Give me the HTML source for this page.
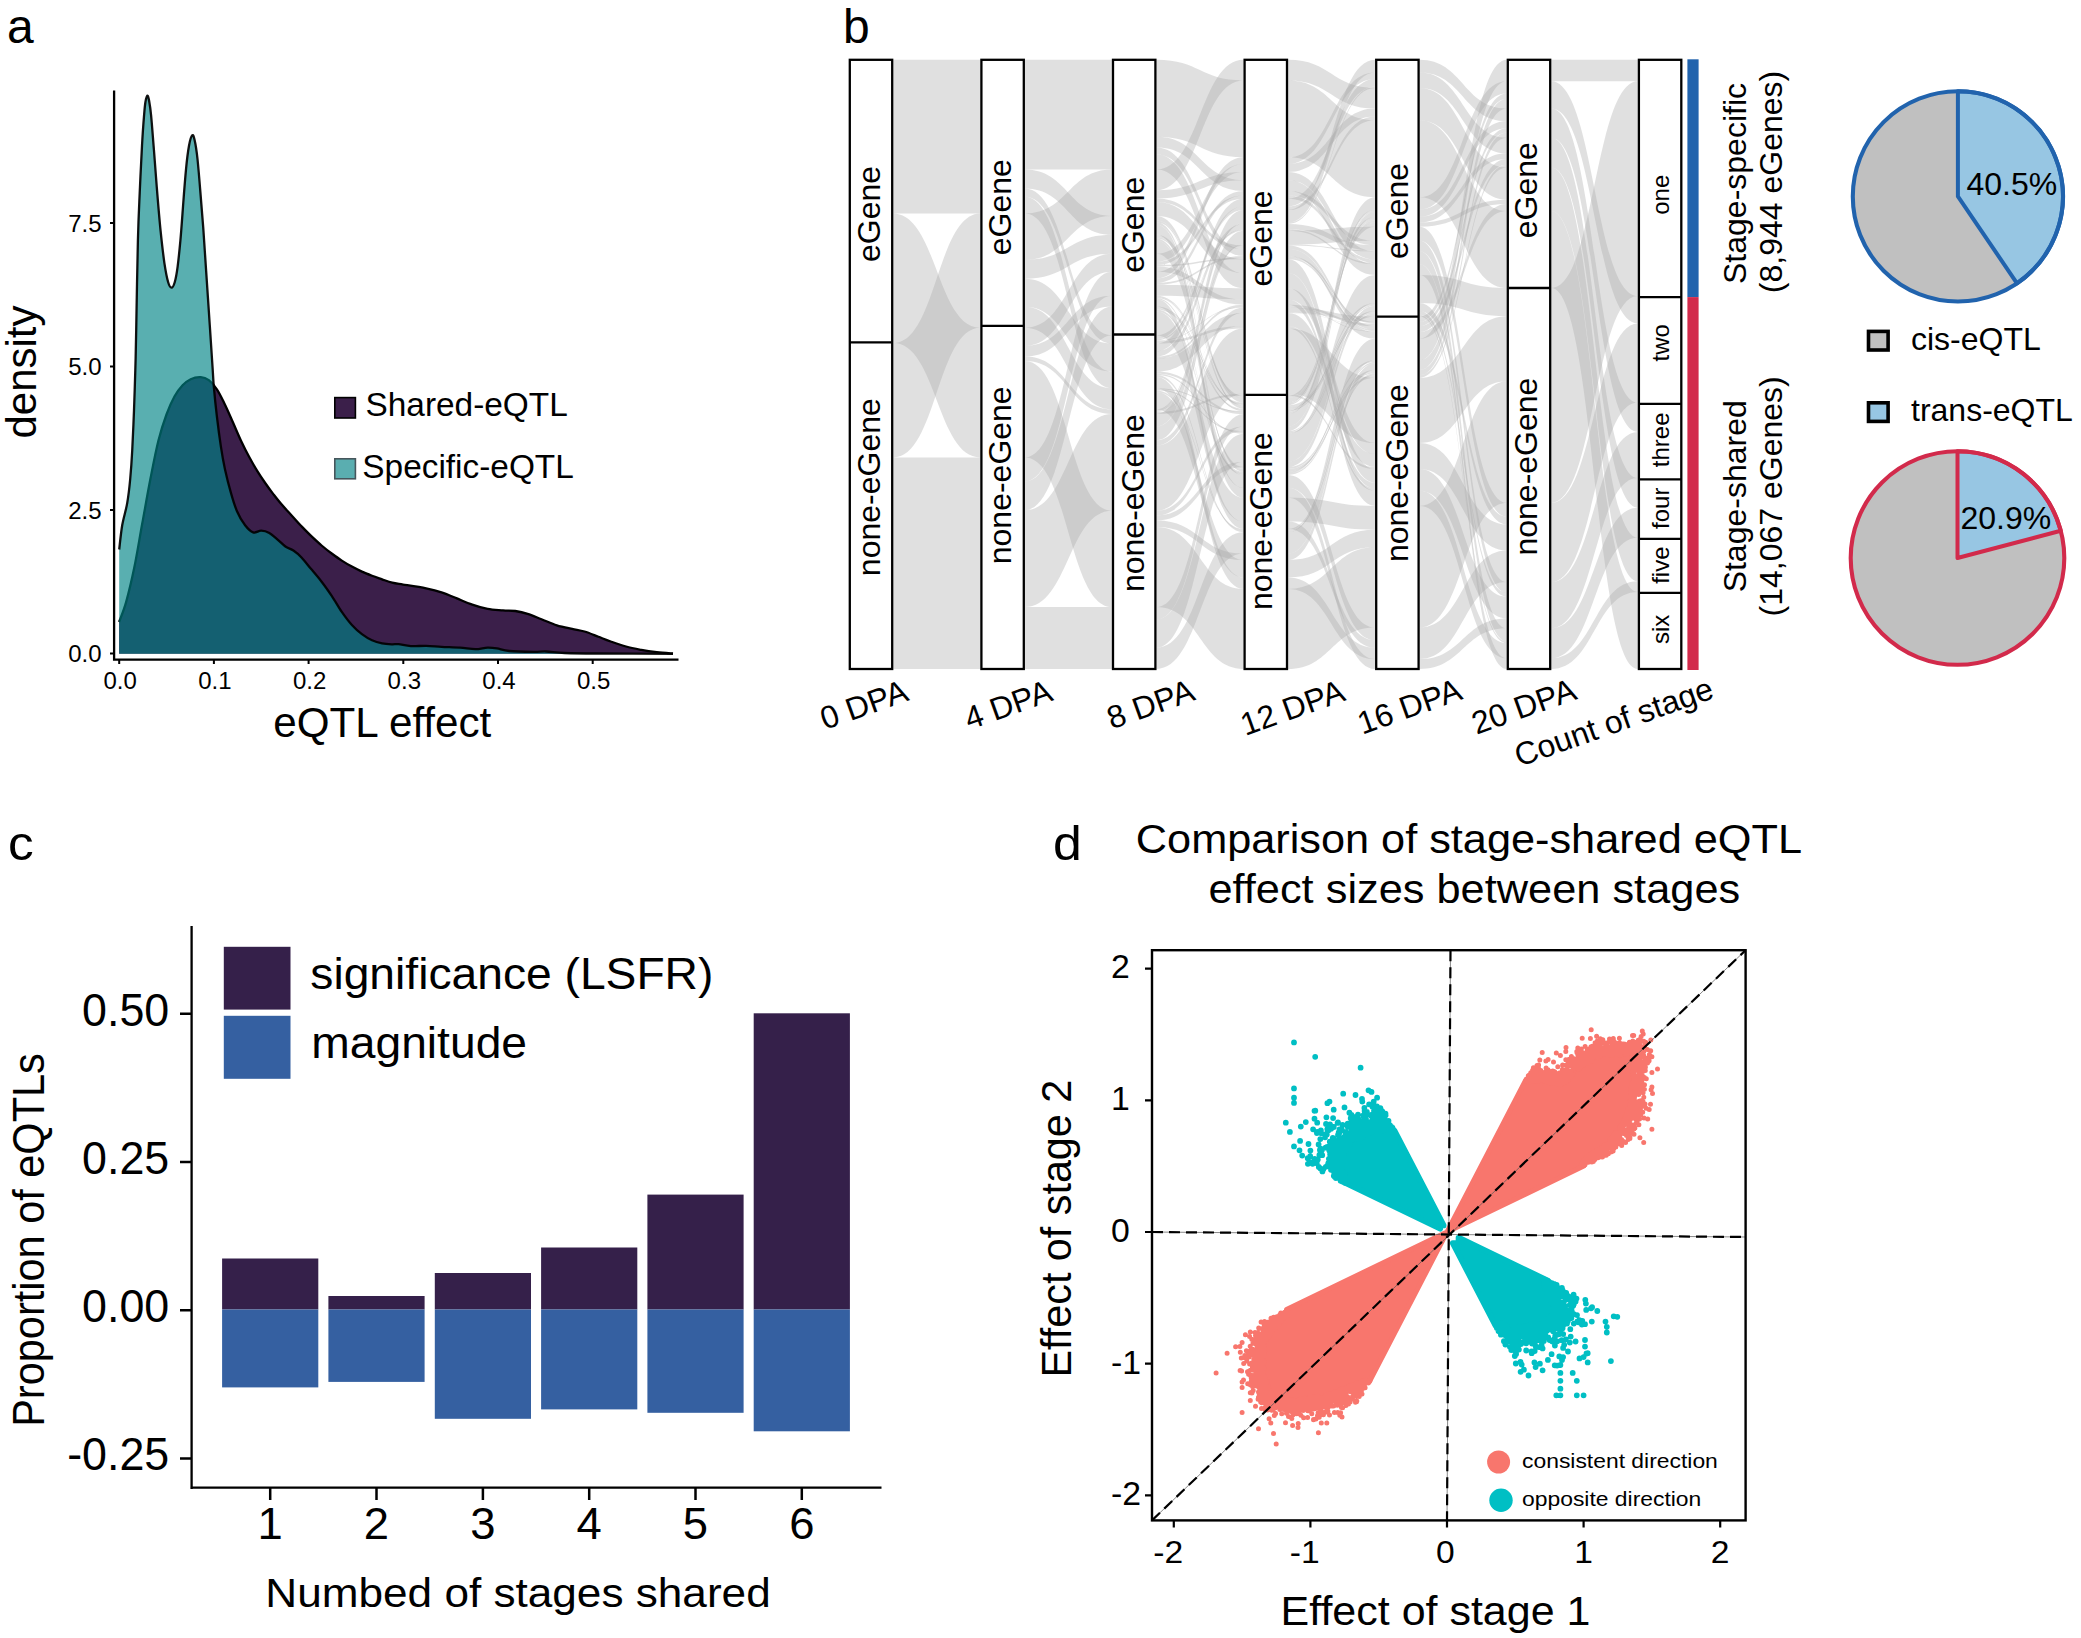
<!DOCTYPE html>
<html><head><meta charset="utf-8"><title>eQTL figure</title>
<style>
html,body{margin:0;padding:0;background:#fff}
svg{display:block}
text{font-family:"Liberation Sans", Arial, Helvetica, sans-serif;fill:#000}
</style></head><body>
<svg width="2081" height="1638" viewBox="0 0 2081 1638">
<rect width="2081" height="1638" fill="#fff"/>
<text x="7.0" y="42.5" font-size="48">a</text>
<path d="M119.1 622.0C120.3 618.6 123.7 611.0 126.2 601.9C128.7 592.8 131.6 580.7 134.3 567.6C137.0 554.5 139.6 538.1 142.3 523.3C145.0 508.5 147.7 492.8 150.4 479.0C153.1 465.2 155.7 451.4 158.4 440.7C161.1 429.9 163.8 421.9 166.5 414.5C169.2 407.1 171.9 401.2 174.6 396.3C177.3 391.4 179.9 388.2 182.6 385.3C185.3 382.4 187.7 380.6 190.7 379.2C193.7 377.8 197.7 377.0 200.7 377.2C203.7 377.4 206.1 378.2 208.8 380.2C211.5 382.2 214.2 385.3 216.9 389.3C219.6 393.3 222.2 398.9 224.9 404.4C227.6 409.9 230.3 416.4 233.0 422.5C235.7 428.6 238.3 435.0 241.0 440.7C243.7 446.4 246.4 451.8 249.1 456.8C251.8 461.8 254.5 466.5 257.2 470.9C259.9 475.3 262.5 479.1 265.2 483.0C267.9 486.9 270.6 490.6 273.3 494.1C276.0 497.6 278.3 500.6 281.3 504.1C284.3 507.6 288.0 511.5 291.4 515.2C294.8 518.9 298.1 522.8 301.5 526.3C304.9 529.8 308.2 533.2 311.6 536.4C315.0 539.6 318.2 542.6 321.6 545.5C325.0 548.4 328.3 551.0 331.7 553.5C335.1 556.0 338.4 558.4 341.8 560.6C345.2 562.8 348.5 564.8 351.9 566.6C355.2 568.4 358.5 570.1 361.9 571.6C365.2 573.1 368.6 574.4 372.0 575.7C375.4 577.0 378.7 578.1 382.1 579.3C385.5 580.5 388.7 581.8 392.2 582.7C395.7 583.6 397.5 583.7 403.1 584.6C408.8 585.5 419.7 587.1 426.1 588.4C432.5 589.7 436.4 590.6 441.5 592.3C446.6 594.0 451.8 596.3 456.9 598.4C462.0 600.5 467.2 602.9 472.3 604.6C477.4 606.4 482.5 607.9 487.6 608.9C492.7 609.9 498.4 610.0 503.0 610.4C507.6 610.8 511.2 610.4 515.3 611.0C519.4 611.6 523.2 612.4 527.6 613.8C532.0 615.2 536.6 617.3 541.5 619.2C546.4 621.1 551.7 623.7 556.8 625.3C561.9 626.9 567.6 627.9 572.2 628.9C576.8 629.9 580.1 630.2 584.5 631.5C588.9 632.8 594.0 635.1 598.4 636.8C602.8 638.5 606.1 639.9 610.7 641.5C615.3 643.1 620.9 645.1 626.0 646.5C631.1 647.9 636.3 648.9 641.4 649.9C646.5 650.9 651.5 651.6 656.8 652.2C662.1 652.8 670.3 653.3 673.0 653.5L673 653.8L119.1 653.8Z" fill="#3b1f4a"/>
<path d="M119.1 622.0C120.3 618.6 123.7 611.0 126.2 601.9C128.7 592.8 131.6 580.7 134.3 567.6C137.0 554.5 139.6 538.1 142.3 523.3C145.0 508.5 147.7 492.8 150.4 479.0C153.1 465.2 155.7 451.4 158.4 440.7C161.1 429.9 163.8 421.9 166.5 414.5C169.2 407.1 171.9 401.2 174.6 396.3C177.3 391.4 179.9 388.2 182.6 385.3C185.3 382.4 187.7 380.6 190.7 379.2C193.7 377.8 197.7 377.0 200.7 377.2C203.7 377.4 206.1 378.2 208.8 380.2C211.5 382.2 214.2 385.3 216.9 389.3C219.6 393.3 222.2 398.9 224.9 404.4C227.6 409.9 230.3 416.4 233.0 422.5C235.7 428.6 238.3 435.0 241.0 440.7C243.7 446.4 246.4 451.8 249.1 456.8C251.8 461.8 254.5 466.5 257.2 470.9C259.9 475.3 262.5 479.1 265.2 483.0C267.9 486.9 270.6 490.6 273.3 494.1C276.0 497.6 278.3 500.6 281.3 504.1C284.3 507.6 288.0 511.5 291.4 515.2C294.8 518.9 298.1 522.8 301.5 526.3C304.9 529.8 308.2 533.2 311.6 536.4C315.0 539.6 318.2 542.6 321.6 545.5C325.0 548.4 328.3 551.0 331.7 553.5C335.1 556.0 338.4 558.4 341.8 560.6C345.2 562.8 348.5 564.8 351.9 566.6C355.2 568.4 358.5 570.1 361.9 571.6C365.2 573.1 368.6 574.4 372.0 575.7C375.4 577.0 378.7 578.1 382.1 579.3C385.5 580.5 388.7 581.8 392.2 582.7C395.7 583.6 397.5 583.7 403.1 584.6C408.8 585.5 419.7 587.1 426.1 588.4C432.5 589.7 436.4 590.6 441.5 592.3C446.6 594.0 451.8 596.3 456.9 598.4C462.0 600.5 467.2 602.9 472.3 604.6C477.4 606.4 482.5 607.9 487.6 608.9C492.7 609.9 498.4 610.0 503.0 610.4C507.6 610.8 511.2 610.4 515.3 611.0C519.4 611.6 523.2 612.4 527.6 613.8C532.0 615.2 536.6 617.3 541.5 619.2C546.4 621.1 551.7 623.7 556.8 625.3C561.9 626.9 567.6 627.9 572.2 628.9C576.8 629.9 580.1 630.2 584.5 631.5C588.9 632.8 594.0 635.1 598.4 636.8C602.8 638.5 606.1 639.9 610.7 641.5C615.3 643.1 620.9 645.1 626.0 646.5C631.1 647.9 636.3 648.9 641.4 649.9C646.5 650.9 651.5 651.6 656.8 652.2C662.1 652.8 670.3 653.3 673.0 653.5" fill="none" stroke="#000" stroke-width="2.3"/>
<path d="M119.2 549.5C119.7 545.5 120.9 533.0 122.2 525.3C123.5 517.6 125.9 510.8 127.2 503.1C128.5 495.4 129.4 487.7 130.2 479.0C131.0 470.3 131.6 462.1 132.2 450.7C132.8 439.3 133.5 423.8 134.0 410.4C134.5 397.0 134.9 383.5 135.3 370.1C135.7 356.7 135.8 351.6 136.2 330.0C136.6 308.4 137.3 263.2 137.9 240.4C138.5 217.6 139.0 208.8 139.7 193.0C140.4 177.2 141.3 158.3 142.0 145.7C142.7 133.1 143.3 124.5 143.9 117.3C144.5 110.0 144.8 105.8 145.4 102.2C146.0 98.6 146.7 95.8 147.3 95.6C147.9 95.4 148.6 97.9 149.2 101.2C149.8 104.5 150.3 107.4 151.1 115.4C151.9 123.5 152.9 137.5 153.9 149.5C154.9 161.5 155.7 173.8 156.8 187.4C157.9 201.0 159.3 218.3 160.6 230.9C161.9 243.5 163.2 254.6 164.4 263.1C165.7 271.6 166.9 277.9 168.1 282.0C169.3 286.1 170.4 287.7 171.5 287.7C172.6 287.7 173.8 285.5 174.8 282.0C175.8 278.5 176.7 273.8 177.6 266.9C178.5 260.0 179.4 251.1 180.4 240.4C181.4 229.7 182.4 214.5 183.3 202.5C184.2 190.5 185.2 177.9 186.1 168.4C187.0 158.9 188.0 151.2 189.0 145.7C190.0 140.2 191.3 136.2 192.2 135.3C193.1 134.4 193.7 136.1 194.6 140.0C195.5 143.9 196.6 150.5 197.5 159.0C198.4 167.5 199.4 179.8 200.3 191.1C201.2 202.4 202.2 214.1 203.2 227.1C204.1 240.1 204.9 252.4 206.0 268.8C207.1 285.2 208.7 309.0 209.8 325.5C210.9 342.0 211.9 357.9 212.6 368.0C213.3 378.1 213.1 378.2 213.8 386.3C214.5 394.4 215.7 406.4 216.9 416.5C218.1 426.6 219.6 438.0 220.9 446.7C222.2 455.4 223.2 461.2 224.9 468.9C226.6 476.6 229.0 486.1 231.0 493.1C233.0 500.2 234.7 505.8 237.0 511.2C239.3 516.6 242.4 521.8 245.1 525.3C247.8 528.8 250.4 531.5 253.1 532.4C255.8 533.3 258.5 530.6 261.2 530.7C263.9 530.8 266.6 531.5 269.3 533.0C272.0 534.5 274.6 537.1 277.3 539.4C280.0 541.6 282.7 544.6 285.4 546.5C288.1 548.4 290.7 548.7 293.4 550.5C296.1 552.3 298.5 554.3 301.5 557.5C304.5 560.7 308.2 565.6 311.6 569.6C315.0 573.6 318.2 577.3 321.6 581.7C325.0 586.1 328.3 590.8 331.7 595.8C335.1 600.8 338.4 607.0 341.8 611.9C345.2 616.8 348.5 621.3 351.9 625.0C355.2 628.7 358.5 631.6 361.9 634.1C365.2 636.6 368.6 638.7 372.0 640.2C375.4 641.8 378.7 642.7 382.1 643.4C385.5 644.1 389.5 644.2 392.2 644.3C394.9 644.4 395.4 643.9 398.5 644.2C401.6 644.5 406.2 645.8 410.8 646.1C415.4 646.4 421.0 645.7 426.1 645.8C431.2 645.9 435.9 646.5 441.5 646.8C447.1 647.1 454.4 647.2 460.0 647.6C465.6 648.0 470.7 649.2 475.3 649.2C479.9 649.2 484.0 647.7 487.6 647.6C491.2 647.5 493.3 647.8 496.9 648.4C500.5 649.0 503.1 650.4 509.2 651.0C515.4 651.6 527.6 651.8 533.8 651.9C539.9 652.0 541.0 651.3 546.1 651.5C551.2 651.7 556.3 652.7 564.5 653.0C572.7 653.3 577.2 653.4 595.3 653.5C613.4 653.6 660.0 653.8 673.0 653.8L673 653.8L119.2 653.8Z" fill="#008486" fill-opacity="0.65"/>
<path d="M119.2 549.5C119.7 545.5 120.9 533.0 122.2 525.3C123.5 517.6 125.9 510.8 127.2 503.1C128.5 495.4 129.4 487.7 130.2 479.0C131.0 470.3 131.6 462.1 132.2 450.7C132.8 439.3 133.5 423.8 134.0 410.4C134.5 397.0 134.9 383.5 135.3 370.1C135.7 356.7 135.8 351.6 136.2 330.0C136.6 308.4 137.3 263.2 137.9 240.4C138.5 217.6 139.0 208.8 139.7 193.0C140.4 177.2 141.3 158.3 142.0 145.7C142.7 133.1 143.3 124.5 143.9 117.3C144.5 110.0 144.8 105.8 145.4 102.2C146.0 98.6 146.7 95.8 147.3 95.6C147.9 95.4 148.6 97.9 149.2 101.2C149.8 104.5 150.3 107.4 151.1 115.4C151.9 123.5 152.9 137.5 153.9 149.5C154.9 161.5 155.7 173.8 156.8 187.4C157.9 201.0 159.3 218.3 160.6 230.9C161.9 243.5 163.2 254.6 164.4 263.1C165.7 271.6 166.9 277.9 168.1 282.0C169.3 286.1 170.4 287.7 171.5 287.7C172.6 287.7 173.8 285.5 174.8 282.0C175.8 278.5 176.7 273.8 177.6 266.9C178.5 260.0 179.4 251.1 180.4 240.4C181.4 229.7 182.4 214.5 183.3 202.5C184.2 190.5 185.2 177.9 186.1 168.4C187.0 158.9 188.0 151.2 189.0 145.7C190.0 140.2 191.3 136.2 192.2 135.3C193.1 134.4 193.7 136.1 194.6 140.0C195.5 143.9 196.6 150.5 197.5 159.0C198.4 167.5 199.4 179.8 200.3 191.1C201.2 202.4 202.2 214.1 203.2 227.1C204.1 240.1 204.9 252.4 206.0 268.8C207.1 285.2 208.7 309.0 209.8 325.5C210.9 342.0 211.9 357.9 212.6 368.0C213.3 378.1 213.1 378.2 213.8 386.3C214.5 394.4 215.7 406.4 216.9 416.5C218.1 426.6 219.6 438.0 220.9 446.7C222.2 455.4 223.2 461.2 224.9 468.9C226.6 476.6 229.0 486.1 231.0 493.1C233.0 500.2 234.7 505.8 237.0 511.2C239.3 516.6 242.4 521.8 245.1 525.3C247.8 528.8 250.4 531.5 253.1 532.4C255.8 533.3 258.5 530.6 261.2 530.7C263.9 530.8 266.6 531.5 269.3 533.0C272.0 534.5 274.6 537.1 277.3 539.4C280.0 541.6 282.7 544.6 285.4 546.5C288.1 548.4 290.7 548.7 293.4 550.5C296.1 552.3 298.5 554.3 301.5 557.5C304.5 560.7 308.2 565.6 311.6 569.6C315.0 573.6 318.2 577.3 321.6 581.7C325.0 586.1 328.3 590.8 331.7 595.8C335.1 600.8 338.4 607.0 341.8 611.9C345.2 616.8 348.5 621.3 351.9 625.0C355.2 628.7 358.5 631.6 361.9 634.1C365.2 636.6 368.6 638.7 372.0 640.2C375.4 641.8 378.7 642.7 382.1 643.4C385.5 644.1 389.5 644.2 392.2 644.3C394.9 644.4 395.4 643.9 398.5 644.2C401.6 644.5 406.2 645.8 410.8 646.1C415.4 646.4 421.0 645.7 426.1 645.8C431.2 645.9 435.9 646.5 441.5 646.8C447.1 647.1 454.4 647.2 460.0 647.6C465.6 648.0 470.7 649.2 475.3 649.2C479.9 649.2 484.0 647.7 487.6 647.6C491.2 647.5 493.3 647.8 496.9 648.4C500.5 649.0 503.1 650.4 509.2 651.0C515.4 651.6 527.6 651.8 533.8 651.9C539.9 652.0 541.0 651.3 546.1 651.5C551.2 651.7 556.3 652.7 564.5 653.0C572.7 653.3 577.2 653.4 595.3 653.5C613.4 653.6 660.0 653.8 673.0 653.8" fill="none" stroke="#000" stroke-width="2.3" stroke-opacity="0.92"/>
<path d="M114.1 90.5V660.7M113 659.6H678.5" stroke="#000" stroke-width="2.3" fill="none"/>
<text x="120.2" y="689.3" font-size="24" text-anchor="middle">0.0</text>
<text x="214.9" y="689.3" font-size="24" text-anchor="middle">0.1</text>
<text x="309.6" y="689.3" font-size="24" text-anchor="middle">0.2</text>
<text x="404.3" y="689.3" font-size="24" text-anchor="middle">0.3</text>
<text x="499.0" y="689.3" font-size="24" text-anchor="middle">0.4</text>
<text x="593.7" y="689.3" font-size="24" text-anchor="middle">0.5</text>
<text x="101.5" y="662.0" font-size="24" text-anchor="end">0.0</text>
<text x="101.5" y="518.5" font-size="24" text-anchor="end">2.5</text>
<text x="101.5" y="375.0" font-size="24" text-anchor="end">5.0</text>
<text x="101.5" y="231.5" font-size="24" text-anchor="end">7.5</text>
<path d="M119.2 660V664M213.9 660V664M308.6 660V664M403.3 660V664M498.0 660V664M592.7 660V664M110 653.6H113M110 510.1H113M110 366.6H113M110 223.1H113" stroke="#000" stroke-width="2" fill="none"/>
<text transform="translate(36.0 372.0) rotate(-90)" font-size="42" text-anchor="middle">density</text>
<text x="382.3" y="736.6" font-size="42.2" text-anchor="middle">eQTL effect</text>
<rect x="334.8" y="397.6" width="20.6" height="20.4" fill="#3b1f4a" stroke="#000" stroke-width="1.6"/>
<rect x="334.8" y="458.8" width="20.6" height="20" fill="#5aaeb0" stroke="#46565c" stroke-width="1.6"/>
<text x="365.5" y="416.2" font-size="33.4">Shared-eQTL</text>
<text x="362.3" y="477.6" font-size="33.4">Specific-eQTL</text>
<text x="843.0" y="42.7" font-size="48">b</text>
<g fill="#a9a9a9" fill-opacity="0.36">
<path d="M893.2 59.8H980.4V213.5H893.2Z"/>
<path d="M893.2 213.5C936.8 213.5 936.8 327.8 980.4 327.8V457.5C936.8 457.5 936.8 343.1 893.2 343.1Z"/>
<path d="M893.2 343.1C936.8 343.1 936.8 213.5 980.4 213.5V327.8C936.8 327.8 936.8 457.5 893.2 457.5Z"/>
<path d="M893.2 457.5H980.4V669.0H893.2Z"/>
<path d="M1024.8 59.8H1112.0V169.6H1024.8Z"/>
<path d="M1024.8 169.6C1068.4 169.6 1068.4 215.9 1112.0 215.9V234.7C1068.4 234.7 1068.4 188.4 1024.8 188.4Z"/>
<path d="M1024.8 188.4C1068.4 188.4 1068.4 335.3 1112.0 335.3V343.6C1068.4 343.6 1068.4 196.8 1024.8 196.8Z"/>
<path d="M1024.8 196.8C1068.4 196.8 1068.4 371.6 1112.0 371.6V388.3C1068.4 388.3 1068.4 213.5 1024.8 213.5Z"/>
<path d="M1024.8 213.5C1068.4 213.5 1068.4 169.6 1112.0 169.6V215.9C1068.4 215.9 1068.4 259.8 1024.8 259.8Z"/>
<path d="M1024.8 259.8C1068.4 259.8 1068.4 234.7 1112.0 234.7V253.7C1068.4 253.7 1068.4 278.8 1024.8 278.8Z"/>
<path d="M1024.8 278.8C1068.4 278.8 1068.4 343.6 1112.0 343.6V371.6C1068.4 371.6 1068.4 306.8 1024.8 306.8Z"/>
<path d="M1024.8 306.8C1068.4 306.8 1068.4 388.3 1112.0 388.3V409.4C1068.4 409.4 1068.4 327.8 1024.8 327.8Z"/>
<path d="M1024.8 327.8C1068.4 327.8 1068.4 253.7 1112.0 253.7V271.8C1068.4 271.8 1068.4 345.9 1024.8 345.9Z"/>
<path d="M1024.8 345.9C1068.4 345.9 1068.4 295.8 1112.0 295.8V306.5C1068.4 306.5 1068.4 356.6 1024.8 356.6Z"/>
<path d="M1024.8 356.6C1068.4 356.6 1068.4 409.4 1112.0 409.4V413.9C1068.4 413.9 1068.4 361.1 1024.8 361.1Z"/>
<path d="M1024.8 361.1C1068.4 361.1 1068.4 510.7 1112.0 510.7V607.1C1068.4 607.1 1068.4 457.5 1024.8 457.5Z"/>
<path d="M1024.8 457.5C1068.4 457.5 1068.4 271.8 1112.0 271.8V295.8C1068.4 295.8 1068.4 481.5 1024.8 481.5Z"/>
<path d="M1024.8 481.5C1068.4 481.5 1068.4 306.5 1112.0 306.5V335.3C1068.4 335.3 1068.4 510.2 1024.8 510.2Z"/>
<path d="M1024.8 510.2C1068.4 510.2 1068.4 413.9 1112.0 413.9V510.7C1068.4 510.7 1068.4 607.1 1024.8 607.1Z"/>
<path d="M1024.8 607.1H1112.0V669.0H1024.8Z"/>
<path d="M1156.4 59.8C1200.0 59.8 1200.0 80.4 1243.6 80.4V157.3C1200.0 157.3 1200.0 136.8 1156.4 136.8Z"/>
<path d="M1156.4 136.8C1200.0 136.8 1200.0 180.2 1243.6 180.2V190.9C1200.0 190.9 1200.0 147.5 1156.4 147.5Z"/>
<path d="M1156.4 147.5C1200.0 147.5 1200.0 249.1 1243.6 249.1V256.0C1200.0 256.0 1200.0 154.4 1156.4 154.4Z"/>
<path d="M1156.4 154.4C1200.0 154.4 1200.0 273.1 1243.6 273.1V288.3C1200.0 288.3 1200.0 169.6 1156.4 169.6Z"/>
<path d="M1156.4 169.6C1200.0 169.6 1200.0 59.8 1243.6 59.8V80.4C1200.0 80.4 1200.0 190.2 1156.4 190.2Z"/>
<path d="M1156.4 190.2C1200.0 190.2 1200.0 172.0 1243.6 172.0V180.2C1200.0 180.2 1200.0 198.4 1156.4 198.4Z"/>
<path d="M1156.4 198.4C1200.0 198.4 1200.0 245.4 1243.6 245.4V249.1C1200.0 249.1 1200.0 202.1 1156.4 202.1Z"/>
<path d="M1156.4 202.1C1200.0 202.1 1200.0 259.2 1243.6 259.2V273.1C1200.0 273.1 1200.0 215.9 1156.4 215.9Z"/>
<path d="M1156.4 215.9C1200.0 215.9 1200.0 398.1 1243.6 398.1V402.5C1200.0 402.5 1200.0 220.4 1156.4 220.4Z"/>
<path d="M1156.4 220.4C1200.0 220.4 1200.0 406.8 1243.6 406.8V408.6C1200.0 408.6 1200.0 222.2 1156.4 222.2Z"/>
<path d="M1156.4 222.2C1200.0 222.2 1200.0 469.1 1243.6 469.1V471.7C1200.0 471.7 1200.0 224.8 1156.4 224.8Z"/>
<path d="M1156.4 224.8C1200.0 224.8 1200.0 487.8 1243.6 487.8V497.7C1200.0 497.7 1200.0 234.7 1156.4 234.7Z"/>
<path d="M1156.4 234.7C1200.0 234.7 1200.0 395.7 1243.6 395.7V398.1C1200.0 398.1 1200.0 237.0 1156.4 237.0Z"/>
<path d="M1156.4 237.0C1200.0 237.0 1200.0 405.2 1243.6 405.2V406.8C1200.0 406.8 1200.0 238.6 1156.4 238.6Z"/>
<path d="M1156.4 238.6C1200.0 238.6 1200.0 467.0 1243.6 467.0V469.1C1200.0 469.1 1200.0 240.8 1156.4 240.8Z"/>
<path d="M1156.4 240.8C1200.0 240.8 1200.0 474.9 1243.6 474.9V487.8C1200.0 487.8 1200.0 253.7 1156.4 253.7Z"/>
<path d="M1156.4 253.7C1200.0 253.7 1200.0 163.9 1243.6 163.9V172.0C1200.0 172.0 1200.0 261.8 1156.4 261.8Z"/>
<path d="M1156.4 261.8C1200.0 261.8 1200.0 195.4 1243.6 195.4V198.7C1200.0 198.7 1200.0 265.0 1156.4 265.0Z"/>
<path d="M1156.4 265.0C1200.0 265.0 1200.0 257.8 1243.6 257.8V259.2C1200.0 259.2 1200.0 266.4 1156.4 266.4Z"/>
<path d="M1156.4 266.4C1200.0 266.4 1200.0 299.4 1243.6 299.4V304.7C1200.0 304.7 1200.0 271.8 1156.4 271.8Z"/>
<path d="M1156.4 271.8C1200.0 271.8 1200.0 157.3 1243.6 157.3V163.9C1200.0 163.9 1200.0 278.4 1156.4 278.4Z"/>
<path d="M1156.4 278.4C1200.0 278.4 1200.0 190.9 1243.6 190.9V195.4C1200.0 195.4 1200.0 282.9 1156.4 282.9Z"/>
<path d="M1156.4 282.9C1200.0 282.9 1200.0 256.0 1243.6 256.0V257.8C1200.0 257.8 1200.0 284.8 1156.4 284.8Z"/>
<path d="M1156.4 284.8C1200.0 284.8 1200.0 288.3 1243.6 288.3V299.4C1200.0 299.4 1200.0 295.8 1156.4 295.8Z"/>
<path d="M1156.4 295.8C1200.0 295.8 1200.0 403.9 1243.6 403.9V405.2C1200.0 405.2 1200.0 297.1 1156.4 297.1Z"/>
<path d="M1156.4 297.1C1200.0 297.1 1200.0 410.1 1243.6 410.1V411.0C1200.0 411.0 1200.0 298.0 1156.4 298.0Z"/>
<path d="M1156.4 298.0C1200.0 298.0 1200.0 473.6 1243.6 473.6V474.9C1200.0 474.9 1200.0 299.2 1156.4 299.2Z"/>
<path d="M1156.4 299.2C1200.0 299.2 1200.0 521.6 1243.6 521.6V528.9C1200.0 528.9 1200.0 306.5 1156.4 306.5Z"/>
<path d="M1156.4 306.5C1200.0 306.5 1200.0 402.5 1243.6 402.5V403.9C1200.0 403.9 1200.0 307.9 1156.4 307.9Z"/>
<path d="M1156.4 307.9C1200.0 307.9 1200.0 408.6 1243.6 408.6V410.1C1200.0 410.1 1200.0 309.5 1156.4 309.5Z"/>
<path d="M1156.4 309.5C1200.0 309.5 1200.0 471.7 1243.6 471.7V473.6C1200.0 473.6 1200.0 311.4 1156.4 311.4Z"/>
<path d="M1156.4 311.4C1200.0 311.4 1200.0 497.7 1243.6 497.7V521.6C1200.0 521.6 1200.0 335.3 1156.4 335.3Z"/>
<path d="M1156.4 335.3C1200.0 335.3 1200.0 206.4 1243.6 206.4V210.1C1200.0 210.1 1200.0 339.0 1156.4 339.0Z"/>
<path d="M1156.4 339.0C1200.0 339.0 1200.0 229.2 1243.6 229.2V230.7C1200.0 230.7 1200.0 340.4 1156.4 340.4Z"/>
<path d="M1156.4 340.4C1200.0 340.4 1200.0 306.9 1243.6 306.9V307.5C1200.0 307.5 1200.0 341.1 1156.4 341.1Z"/>
<path d="M1156.4 341.1C1200.0 341.1 1200.0 326.0 1243.6 326.0V328.5C1200.0 328.5 1200.0 343.6 1156.4 343.6Z"/>
<path d="M1156.4 343.6C1200.0 343.6 1200.0 198.7 1243.6 198.7V206.4C1200.0 206.4 1200.0 351.3 1156.4 351.3Z"/>
<path d="M1156.4 351.3C1200.0 351.3 1200.0 223.9 1243.6 223.9V229.2C1200.0 229.2 1200.0 356.6 1156.4 356.6Z"/>
<path d="M1156.4 356.6C1200.0 356.6 1200.0 304.7 1243.6 304.7V306.9C1200.0 306.9 1200.0 358.7 1156.4 358.7Z"/>
<path d="M1156.4 358.7C1200.0 358.7 1200.0 313.1 1243.6 313.1V326.0C1200.0 326.0 1200.0 371.6 1156.4 371.6Z"/>
<path d="M1156.4 371.6C1200.0 371.6 1200.0 412.0 1243.6 412.0V414.1C1200.0 414.1 1200.0 373.7 1156.4 373.7Z"/>
<path d="M1156.4 373.7C1200.0 373.7 1200.0 432.3 1243.6 432.3V433.7C1200.0 433.7 1200.0 375.1 1156.4 375.1Z"/>
<path d="M1156.4 375.1C1200.0 375.1 1200.0 530.3 1243.6 530.3V532.2C1200.0 532.2 1200.0 377.0 1156.4 377.0Z"/>
<path d="M1156.4 377.0C1200.0 377.0 1200.0 577.5 1243.6 577.5V588.9C1200.0 588.9 1200.0 388.3 1156.4 388.3Z"/>
<path d="M1156.4 388.3C1200.0 388.3 1200.0 411.0 1243.6 411.0V412.0C1200.0 412.0 1200.0 389.3 1156.4 389.3Z"/>
<path d="M1156.4 389.3C1200.0 389.3 1200.0 431.1 1243.6 431.1V432.3C1200.0 432.3 1200.0 390.5 1156.4 390.5Z"/>
<path d="M1156.4 390.5C1200.0 390.5 1200.0 528.9 1243.6 528.9V530.3C1200.0 530.3 1200.0 391.9 1156.4 391.9Z"/>
<path d="M1156.4 391.9C1200.0 391.9 1200.0 560.0 1243.6 560.0V577.5C1200.0 577.5 1200.0 409.4 1156.4 409.4Z"/>
<path d="M1156.4 409.4C1200.0 409.4 1200.0 222.7 1243.6 222.7V223.9C1200.0 223.9 1200.0 410.6 1156.4 410.6Z"/>
<path d="M1156.4 410.6C1200.0 410.6 1200.0 244.5 1243.6 244.5V245.4C1200.0 245.4 1200.0 411.5 1156.4 411.5Z"/>
<path d="M1156.4 411.5C1200.0 411.5 1200.0 312.8 1243.6 312.8V313.1C1200.0 313.1 1200.0 411.8 1156.4 411.8Z"/>
<path d="M1156.4 411.8C1200.0 411.8 1200.0 393.7 1243.6 393.7V395.7C1200.0 395.7 1200.0 413.9 1156.4 413.9Z"/>
<path d="M1156.4 413.9C1200.0 413.9 1200.0 210.1 1243.6 210.1V222.7C1200.0 222.7 1200.0 426.5 1156.4 426.5Z"/>
<path d="M1156.4 426.5C1200.0 426.5 1200.0 230.7 1243.6 230.7V244.5C1200.0 244.5 1200.0 440.3 1156.4 440.3Z"/>
<path d="M1156.4 440.3C1200.0 440.3 1200.0 307.5 1243.6 307.5V312.8C1200.0 312.8 1200.0 445.6 1156.4 445.6Z"/>
<path d="M1156.4 445.6C1200.0 445.6 1200.0 328.5 1243.6 328.5V393.7C1200.0 393.7 1200.0 510.7 1156.4 510.7Z"/>
<path d="M1156.4 510.7C1200.0 510.7 1200.0 426.5 1243.6 426.5V431.1C1200.0 431.1 1200.0 515.4 1156.4 515.4Z"/>
<path d="M1156.4 515.4C1200.0 515.4 1200.0 461.8 1243.6 461.8V467.0C1200.0 467.0 1200.0 520.5 1156.4 520.5Z"/>
<path d="M1156.4 520.5C1200.0 520.5 1200.0 553.6 1243.6 553.6V560.0C1200.0 560.0 1200.0 526.9 1156.4 526.9Z"/>
<path d="M1156.4 526.9C1200.0 526.9 1200.0 588.9 1243.6 588.9V669.0C1200.0 669.0 1200.0 607.1 1156.4 607.1Z"/>
<path d="M1156.4 607.1C1200.0 607.1 1200.0 414.1 1243.6 414.1V426.5C1200.0 426.5 1200.0 619.5 1156.4 619.5Z"/>
<path d="M1156.4 619.5C1200.0 619.5 1200.0 433.7 1243.6 433.7V461.8C1200.0 461.8 1200.0 647.6 1156.4 647.6Z"/>
<path d="M1156.4 647.6C1200.0 647.6 1200.0 532.2 1243.6 532.2V553.6C1200.0 553.6 1200.0 669.0 1156.4 669.0Z"/>
<path d="M1288.0 59.8C1331.6 59.8 1331.6 87.9 1375.2 87.9V108.5C1331.6 108.5 1331.6 80.4 1288.0 80.4Z"/>
<path d="M1288.0 80.4C1331.6 80.4 1331.6 120.2 1375.2 120.2V197.2C1331.6 197.2 1331.6 157.3 1288.0 157.3Z"/>
<path d="M1288.0 157.3C1331.6 157.3 1331.6 72.4 1375.2 72.4V79.0C1331.6 79.0 1331.6 163.9 1288.0 163.9Z"/>
<path d="M1288.0 163.9C1331.6 163.9 1331.6 108.5 1375.2 108.5V116.5C1331.6 116.5 1331.6 172.0 1288.0 172.0Z"/>
<path d="M1288.0 172.0C1331.6 172.0 1331.6 251.3 1375.2 251.3V259.6C1331.6 259.6 1331.6 180.2 1288.0 180.2Z"/>
<path d="M1288.0 180.2C1331.6 180.2 1331.6 264.3 1375.2 264.3V275.0C1331.6 275.0 1331.6 190.9 1288.0 190.9Z"/>
<path d="M1288.0 190.9C1331.6 190.9 1331.6 240.7 1375.2 240.7V245.2C1331.6 245.2 1331.6 195.4 1288.0 195.4Z"/>
<path d="M1288.0 195.4C1331.6 195.4 1331.6 259.6 1375.2 259.6V262.8C1331.6 262.8 1331.6 198.7 1288.0 198.7Z"/>
<path d="M1288.0 198.7C1331.6 198.7 1331.6 79.0 1375.2 79.0V86.7C1331.6 86.7 1331.6 206.4 1288.0 206.4Z"/>
<path d="M1288.0 206.4C1331.6 206.4 1331.6 116.5 1375.2 116.5V120.2C1331.6 120.2 1331.6 210.1 1288.0 210.1Z"/>
<path d="M1288.0 210.1C1331.6 210.1 1331.6 59.8 1375.2 59.8V72.4C1331.6 72.4 1331.6 222.7 1288.0 222.7Z"/>
<path d="M1288.0 222.7C1331.6 222.7 1331.6 86.7 1375.2 86.7V87.9C1331.6 87.9 1331.6 223.9 1288.0 223.9Z"/>
<path d="M1288.0 223.9C1331.6 223.9 1331.6 245.2 1375.2 245.2V250.5C1331.6 250.5 1331.6 229.2 1288.0 229.2Z"/>
<path d="M1288.0 229.2C1331.6 229.2 1331.6 262.8 1375.2 262.8V264.3C1331.6 264.3 1331.6 230.7 1288.0 230.7Z"/>
<path d="M1288.0 230.7C1331.6 230.7 1331.6 226.8 1375.2 226.8V240.7C1331.6 240.7 1331.6 244.5 1288.0 244.5Z"/>
<path d="M1288.0 244.5C1331.6 244.5 1331.6 250.5 1375.2 250.5V251.3C1331.6 251.3 1331.6 245.4 1288.0 245.4Z"/>
<path d="M1288.0 245.4C1331.6 245.4 1331.6 326.1 1375.2 326.1V329.8C1331.6 329.8 1331.6 249.1 1288.0 249.1Z"/>
<path d="M1288.0 249.1C1331.6 249.1 1331.6 331.9 1375.2 331.9V338.8C1331.6 338.8 1331.6 256.0 1288.0 256.0Z"/>
<path d="M1288.0 256.0C1331.6 256.0 1331.6 321.8 1375.2 321.8V323.6C1331.6 323.6 1331.6 257.8 1288.0 257.8Z"/>
<path d="M1288.0 257.8C1331.6 257.8 1331.6 329.8 1375.2 329.8V331.2C1331.6 331.2 1331.6 259.2 1288.0 259.2Z"/>
<path d="M1288.0 259.2C1331.6 259.2 1331.6 469.0 1375.2 469.0V482.8C1331.6 482.8 1331.6 273.1 1288.0 273.1Z"/>
<path d="M1288.0 273.1C1331.6 273.1 1331.6 490.7 1375.2 490.7V505.9C1331.6 505.9 1331.6 288.3 1288.0 288.3Z"/>
<path d="M1288.0 288.3C1331.6 288.3 1331.6 443.0 1375.2 443.0V454.0C1331.6 454.0 1331.6 299.4 1288.0 299.4Z"/>
<path d="M1288.0 299.4C1331.6 299.4 1331.6 482.8 1375.2 482.8V488.2C1331.6 488.2 1331.6 304.7 1288.0 304.7Z"/>
<path d="M1288.0 304.7C1331.6 304.7 1331.6 323.6 1375.2 323.6V325.8C1331.6 325.8 1331.6 306.9 1288.0 306.9Z"/>
<path d="M1288.0 306.9C1331.6 306.9 1331.6 331.2 1375.2 331.2V331.9C1331.6 331.9 1331.6 307.5 1288.0 307.5Z"/>
<path d="M1288.0 307.5C1331.6 307.5 1331.6 316.6 1375.2 316.6V321.8C1331.6 321.8 1331.6 312.8 1288.0 312.8Z"/>
<path d="M1288.0 312.8C1331.6 312.8 1331.6 325.8 1375.2 325.8V326.1C1331.6 326.1 1331.6 313.1 1288.0 313.1Z"/>
<path d="M1288.0 313.1C1331.6 313.1 1331.6 454.0 1375.2 454.0V466.9C1331.6 466.9 1331.6 326.0 1288.0 326.0Z"/>
<path d="M1288.0 326.0C1331.6 326.0 1331.6 488.2 1375.2 488.2V490.7C1331.6 490.7 1331.6 328.5 1288.0 328.5Z"/>
<path d="M1288.0 328.5C1331.6 328.5 1331.6 377.8 1375.2 377.8V443.0C1331.6 443.0 1331.6 393.7 1288.0 393.7Z"/>
<path d="M1288.0 393.7C1331.6 393.7 1331.6 466.9 1375.2 466.9V469.0C1331.6 469.0 1331.6 395.7 1288.0 395.7Z"/>
<path d="M1288.0 395.7C1331.6 395.7 1331.6 216.7 1375.2 216.7V219.0C1331.6 219.0 1331.6 398.1 1288.0 398.1Z"/>
<path d="M1288.0 398.1C1331.6 398.1 1331.6 222.4 1375.2 222.4V226.8C1331.6 226.8 1331.6 402.5 1288.0 402.5Z"/>
<path d="M1288.0 402.5C1331.6 402.5 1331.6 209.6 1375.2 209.6V211.0C1331.6 211.0 1331.6 403.9 1288.0 403.9Z"/>
<path d="M1288.0 403.9C1331.6 403.9 1331.6 219.0 1375.2 219.0V220.3C1331.6 220.3 1331.6 405.2 1288.0 405.2Z"/>
<path d="M1288.0 405.2C1331.6 405.2 1331.6 310.9 1375.2 310.9V312.5C1331.6 312.5 1331.6 406.8 1288.0 406.8Z"/>
<path d="M1288.0 406.8C1331.6 406.8 1331.6 314.8 1375.2 314.8V316.6C1331.6 316.6 1331.6 408.6 1288.0 408.6Z"/>
<path d="M1288.0 408.6C1331.6 408.6 1331.6 303.1 1375.2 303.1V304.7C1331.6 304.7 1331.6 410.1 1288.0 410.1Z"/>
<path d="M1288.0 410.1C1331.6 410.1 1331.6 312.5 1375.2 312.5V313.4C1331.6 313.4 1331.6 411.0 1288.0 411.0Z"/>
<path d="M1288.0 411.0C1331.6 411.0 1331.6 211.0 1375.2 211.0V212.0C1331.6 212.0 1331.6 412.0 1288.0 412.0Z"/>
<path d="M1288.0 412.0C1331.6 412.0 1331.6 220.3 1375.2 220.3V222.4C1331.6 222.4 1331.6 414.1 1288.0 414.1Z"/>
<path d="M1288.0 414.1C1331.6 414.1 1331.6 197.2 1375.2 197.2V209.6C1331.6 209.6 1331.6 426.5 1288.0 426.5Z"/>
<path d="M1288.0 426.5C1331.6 426.5 1331.6 212.0 1375.2 212.0V216.7C1331.6 216.7 1331.6 431.1 1288.0 431.1Z"/>
<path d="M1288.0 431.1C1331.6 431.1 1331.6 304.7 1375.2 304.7V305.8C1331.6 305.8 1331.6 432.3 1288.0 432.3Z"/>
<path d="M1288.0 432.3C1331.6 432.3 1331.6 313.4 1375.2 313.4V314.8C1331.6 314.8 1331.6 433.7 1288.0 433.7Z"/>
<path d="M1288.0 433.7C1331.6 433.7 1331.6 275.0 1375.2 275.0V303.1C1331.6 303.1 1331.6 461.8 1288.0 461.8Z"/>
<path d="M1288.0 461.8C1331.6 461.8 1331.6 305.8 1375.2 305.8V310.9C1331.6 310.9 1331.6 467.0 1288.0 467.0Z"/>
<path d="M1288.0 467.0C1331.6 467.0 1331.6 369.9 1375.2 369.9V372.1C1331.6 372.1 1331.6 469.1 1288.0 469.1Z"/>
<path d="M1288.0 469.1C1331.6 469.1 1331.6 375.2 1375.2 375.2V377.8C1331.6 377.8 1331.6 471.7 1288.0 471.7Z"/>
<path d="M1288.0 471.7C1331.6 471.7 1331.6 360.2 1375.2 360.2V362.1C1331.6 362.1 1331.6 473.6 1288.0 473.6Z"/>
<path d="M1288.0 473.6C1331.6 473.6 1331.6 372.1 1375.2 372.1V373.3C1331.6 373.3 1331.6 474.9 1288.0 474.9Z"/>
<path d="M1288.0 474.9C1331.6 474.9 1331.6 627.5 1375.2 627.5V640.4C1331.6 640.4 1331.6 487.8 1288.0 487.8Z"/>
<path d="M1288.0 487.8C1331.6 487.8 1331.6 659.1 1375.2 659.1V669.0C1331.6 669.0 1331.6 497.7 1288.0 497.7Z"/>
<path d="M1288.0 497.7C1331.6 497.7 1331.6 505.9 1375.2 505.9V529.8C1331.6 529.8 1331.6 521.6 1288.0 521.6Z"/>
<path d="M1288.0 521.6C1331.6 521.6 1331.6 640.4 1375.2 640.4V647.7C1331.6 647.7 1331.6 528.9 1288.0 528.9Z"/>
<path d="M1288.0 528.9C1331.6 528.9 1331.6 362.1 1375.2 362.1V363.5C1331.6 363.5 1331.6 530.3 1288.0 530.3Z"/>
<path d="M1288.0 530.3C1331.6 530.3 1331.6 373.3 1375.2 373.3V375.2C1331.6 375.2 1331.6 532.2 1288.0 532.2Z"/>
<path d="M1288.0 532.2C1331.6 532.2 1331.6 338.8 1375.2 338.8V360.2C1331.6 360.2 1331.6 553.6 1288.0 553.6Z"/>
<path d="M1288.0 553.6C1331.6 553.6 1331.6 363.5 1375.2 363.5V369.9C1331.6 369.9 1331.6 560.0 1288.0 560.0Z"/>
<path d="M1288.0 560.0C1331.6 560.0 1331.6 529.8 1375.2 529.8V547.3C1331.6 547.3 1331.6 577.5 1288.0 577.5Z"/>
<path d="M1288.0 577.5C1331.6 577.5 1331.6 647.7 1375.2 647.7V659.1C1331.6 659.1 1331.6 588.9 1288.0 588.9Z"/>
<path d="M1288.0 588.9C1331.6 588.9 1331.6 547.3 1375.2 547.3V627.5C1331.6 627.5 1331.6 669.0 1288.0 669.0Z"/>
<path d="M1419.6 59.8C1463.2 59.8 1463.2 108.5 1506.8 108.5V121.1C1463.2 121.1 1463.2 72.4 1419.6 72.4Z"/>
<path d="M1419.6 72.4C1463.2 72.4 1463.2 137.7 1506.8 137.7V153.3C1463.2 153.3 1463.2 87.9 1419.6 87.9Z"/>
<path d="M1419.6 87.9C1463.2 87.9 1463.2 167.4 1506.8 167.4V199.7C1463.2 199.7 1463.2 120.2 1419.6 120.2Z"/>
<path d="M1419.6 120.2C1463.2 120.2 1463.2 211.0 1506.8 211.0V288.0C1463.2 288.0 1463.2 197.2 1419.6 197.2Z"/>
<path d="M1419.6 197.2C1463.2 197.2 1463.2 81.2 1506.8 81.2V93.6C1463.2 93.6 1463.2 209.6 1419.6 209.6Z"/>
<path d="M1419.6 209.6C1463.2 209.6 1463.2 121.1 1506.8 121.1V128.2C1463.2 128.2 1463.2 216.7 1419.6 216.7Z"/>
<path d="M1419.6 216.7C1463.2 216.7 1463.2 153.3 1506.8 153.3V159.0C1463.2 159.0 1463.2 222.4 1419.6 222.4Z"/>
<path d="M1419.6 222.4C1463.2 222.4 1463.2 199.7 1506.8 199.7V204.1C1463.2 204.1 1463.2 226.8 1419.6 226.8Z"/>
<path d="M1419.6 226.8C1463.2 226.8 1463.2 502.9 1506.8 502.9V516.7C1463.2 516.7 1463.2 240.7 1419.6 240.7Z"/>
<path d="M1419.6 240.7C1463.2 240.7 1463.2 582.1 1506.8 582.1V592.8C1463.2 592.8 1463.2 251.3 1419.6 251.3Z"/>
<path d="M1419.6 251.3C1463.2 251.3 1463.2 628.3 1506.8 628.3V641.3C1463.2 641.3 1463.2 264.3 1419.6 264.3Z"/>
<path d="M1419.6 264.3C1463.2 264.3 1463.2 658.3 1506.8 658.3V669.0C1463.2 669.0 1463.2 275.0 1419.6 275.0Z"/>
<path d="M1419.6 275.0C1463.2 275.0 1463.2 288.0 1506.8 288.0V316.2C1463.2 316.2 1463.2 303.1 1419.6 303.1Z"/>
<path d="M1419.6 303.1C1463.2 303.1 1463.2 516.7 1506.8 516.7V524.5C1463.2 524.5 1463.2 310.9 1419.6 310.9Z"/>
<path d="M1419.6 310.9C1463.2 310.9 1463.2 592.8 1506.8 592.8V596.7C1463.2 596.7 1463.2 314.8 1419.6 314.8Z"/>
<path d="M1419.6 314.8C1463.2 314.8 1463.2 641.3 1506.8 641.3V643.1C1463.2 643.1 1463.2 316.6 1419.6 316.6Z"/>
<path d="M1419.6 316.6C1463.2 316.6 1463.2 93.6 1506.8 93.6V98.8C1463.2 98.8 1463.2 321.8 1419.6 321.8Z"/>
<path d="M1419.6 321.8C1463.2 321.8 1463.2 128.2 1506.8 128.2V132.5C1463.2 132.5 1463.2 326.1 1419.6 326.1Z"/>
<path d="M1419.6 326.1C1463.2 326.1 1463.2 159.0 1506.8 159.0V164.7C1463.2 164.7 1463.2 331.9 1419.6 331.9Z"/>
<path d="M1419.6 331.9C1463.2 331.9 1463.2 204.1 1506.8 204.1V211.0C1463.2 211.0 1463.2 338.8 1419.6 338.8Z"/>
<path d="M1419.6 338.8C1463.2 338.8 1463.2 59.8 1506.8 59.8V81.2C1463.2 81.2 1463.2 360.2 1419.6 360.2Z"/>
<path d="M1419.6 360.2C1463.2 360.2 1463.2 98.8 1506.8 98.8V108.5C1463.2 108.5 1463.2 369.9 1419.6 369.9Z"/>
<path d="M1419.6 369.9C1463.2 369.9 1463.2 132.5 1506.8 132.5V137.7C1463.2 137.7 1463.2 375.2 1419.6 375.2Z"/>
<path d="M1419.6 375.2C1463.2 375.2 1463.2 164.7 1506.8 164.7V167.4C1463.2 167.4 1463.2 377.8 1419.6 377.8Z"/>
<path d="M1419.6 377.8C1463.2 377.8 1463.2 316.2 1506.8 316.2V381.3C1463.2 381.3 1463.2 443.0 1419.6 443.0Z"/>
<path d="M1419.6 443.0C1463.2 443.0 1463.2 524.5 1506.8 524.5V550.5C1463.2 550.5 1463.2 469.0 1419.6 469.0Z"/>
<path d="M1419.6 469.0C1463.2 469.0 1463.2 596.7 1506.8 596.7V618.4C1463.2 618.4 1463.2 490.7 1419.6 490.7Z"/>
<path d="M1419.6 490.7C1463.2 490.7 1463.2 643.1 1506.8 643.1V658.3C1463.2 658.3 1463.2 505.9 1419.6 505.9Z"/>
<path d="M1419.6 505.9C1463.2 505.9 1463.2 381.3 1506.8 381.3V502.9C1463.2 502.9 1463.2 627.5 1419.6 627.5Z"/>
<path d="M1419.6 627.5C1463.2 627.5 1463.2 550.5 1506.8 550.5V582.1C1463.2 582.1 1463.2 659.1 1419.6 659.1Z"/>
<path d="M1419.6 659.1C1463.2 659.1 1463.2 618.4 1506.8 618.4V628.3C1463.2 628.3 1463.2 669.0 1419.6 669.0Z"/>
<path d="M1551.2 59.8H1637.9V81.2H1551.2Z"/>
<path d="M1551.2 81.2C1594.6 81.2 1594.6 296.1 1637.9 296.1V323.4C1594.6 323.4 1594.6 108.5 1551.2 108.5Z"/>
<path d="M1551.2 108.5C1594.6 108.5 1594.6 402.6 1637.9 402.6V431.9C1594.6 431.9 1594.6 137.7 1551.2 137.7Z"/>
<path d="M1551.2 137.7C1594.6 137.7 1594.6 478.1 1637.9 478.1V507.7C1594.6 507.7 1594.6 167.4 1551.2 167.4Z"/>
<path d="M1551.2 167.4C1594.6 167.4 1594.6 537.7 1637.9 537.7V581.3C1594.6 581.3 1594.6 211.0 1551.2 211.0Z"/>
<path d="M1551.2 211.0C1594.6 211.0 1594.6 592.0 1637.9 592.0V669.0C1594.6 669.0 1594.6 288.0 1551.2 288.0Z"/>
<path d="M1551.2 288.0C1594.6 288.0 1594.6 81.2 1637.9 81.2V296.1C1594.6 296.1 1594.6 502.9 1551.2 502.9Z"/>
<path d="M1551.2 502.9C1594.6 502.9 1594.6 323.4 1637.9 323.4V402.6C1594.6 402.6 1594.6 582.1 1551.2 582.1Z"/>
<path d="M1551.2 582.1C1594.6 582.1 1594.6 431.9 1637.9 431.9V478.1C1594.6 478.1 1594.6 628.3 1551.2 628.3Z"/>
<path d="M1551.2 628.3C1594.6 628.3 1594.6 507.7 1637.9 507.7V537.7C1594.6 537.7 1594.6 658.3 1551.2 658.3Z"/>
<path d="M1551.2 658.3C1594.6 658.3 1594.6 581.3 1637.9 581.3V592.0C1594.6 592.0 1594.6 669.0 1551.2 669.0Z"/>
</g>
<rect x="849.8" y="59.8" width="42.4" height="609.2" fill="#fff" stroke="#000" stroke-width="2.3"/>
<path d="M849.8 342.4h42.4" stroke="#000" stroke-width="2.3"/>
<rect x="981.4" y="59.8" width="42.4" height="609.2" fill="#fff" stroke="#000" stroke-width="2.3"/>
<path d="M981.4 325.9h42.4" stroke="#000" stroke-width="2.3"/>
<rect x="1113.0" y="59.8" width="42.4" height="609.2" fill="#fff" stroke="#000" stroke-width="2.3"/>
<path d="M1113.0 334.5h42.4" stroke="#000" stroke-width="2.3"/>
<rect x="1244.6" y="59.8" width="42.4" height="609.2" fill="#fff" stroke="#000" stroke-width="2.3"/>
<path d="M1244.6 394.8h42.4" stroke="#000" stroke-width="2.3"/>
<rect x="1376.2" y="59.8" width="42.4" height="609.2" fill="#fff" stroke="#000" stroke-width="2.3"/>
<path d="M1376.2 316.6h42.4" stroke="#000" stroke-width="2.3"/>
<rect x="1507.8" y="59.8" width="42.4" height="609.2" fill="#fff" stroke="#000" stroke-width="2.3"/>
<path d="M1507.8 288.0h42.4" stroke="#000" stroke-width="2.3"/>
<rect x="1638.9" y="59.8" width="42.4" height="609.2" fill="#fff" stroke="#000" stroke-width="2.3"/>
<path d="M1638.9 297.1h42.4" stroke="#000" stroke-width="2.3"/>
<path d="M1638.9 403.9h42.4" stroke="#000" stroke-width="2.3"/>
<path d="M1638.9 479.3h42.4" stroke="#000" stroke-width="2.3"/>
<path d="M1638.9 538.8h42.4" stroke="#000" stroke-width="2.3"/>
<path d="M1638.9 592.8h42.4" stroke="#000" stroke-width="2.3"/>
<text transform="translate(879.5 213.9) rotate(-90)" font-size="32" text-anchor="middle">eGene</text>
<text transform="translate(879.5 487.2) rotate(-90)" font-size="32" text-anchor="middle">none-eGene</text>
<text transform="translate(1011.4 207.2) rotate(-90)" font-size="32" text-anchor="middle">eGene</text>
<text transform="translate(1011.4 475.3) rotate(-90)" font-size="32" text-anchor="middle">none-eGene</text>
<text transform="translate(1143.5 224.8) rotate(-90)" font-size="32" text-anchor="middle">eGene</text>
<text transform="translate(1143.5 503.1) rotate(-90)" font-size="32" text-anchor="middle">none-eGene</text>
<text transform="translate(1271.8 238.4) rotate(-90)" font-size="32" text-anchor="middle">eGene</text>
<text transform="translate(1271.8 521.1) rotate(-90)" font-size="32" text-anchor="middle">none-eGene</text>
<text transform="translate(1407.5 211.0) rotate(-90)" font-size="32" text-anchor="middle">eGene</text>
<text transform="translate(1407.5 473.1) rotate(-90)" font-size="32" text-anchor="middle">none-eGene</text>
<text transform="translate(1537.4 190.2) rotate(-90)" font-size="32" text-anchor="middle">eGene</text>
<text transform="translate(1537.4 466.6) rotate(-90)" font-size="32" text-anchor="middle">none-eGene</text>
<text transform="translate(1668.5 194.8) rotate(-90)" font-size="24" text-anchor="middle">one</text>
<text transform="translate(1668.5 342.8) rotate(-90)" font-size="24" text-anchor="middle">two</text>
<text transform="translate(1668.5 439.8) rotate(-90)" font-size="24" text-anchor="middle">three</text>
<text transform="translate(1668.5 508.3) rotate(-90)" font-size="24" text-anchor="middle">four</text>
<text transform="translate(1668.5 565.2) rotate(-90)" font-size="24" text-anchor="middle">five</text>
<text transform="translate(1668.5 629.3) rotate(-90)" font-size="24" text-anchor="middle">six</text>
<rect x="1687.4" y="59.3" width="11.2" height="237.8" fill="#2163ad"/>
<rect x="1687.4" y="297.1" width="11.2" height="372.9" fill="#d22a4b"/>
<text transform="translate(910.0 700.0) rotate(-19.5)" font-size="32" text-anchor="end">0 DPA</text>
<text transform="translate(1054.3 700.0) rotate(-19.5)" font-size="32" text-anchor="end">4 DPA</text>
<text transform="translate(1196.7 699.5) rotate(-19.5)" font-size="32" text-anchor="end">8 DPA</text>
<text transform="translate(1346.9 700.0) rotate(-19.5)" font-size="32" text-anchor="end">12 DPA</text>
<text transform="translate(1463.9 698.7) rotate(-19.5)" font-size="32" text-anchor="end">16 DPA</text>
<text transform="translate(1578.3 698.7) rotate(-19.5)" font-size="32" text-anchor="end">20 DPA</text>
<text transform="translate(1715.5 697.5) rotate(-19.5)" font-size="32" text-anchor="end">Count of stage</text>
<text transform="translate(1746.2 183.5) rotate(-90)" font-size="32" text-anchor="middle">Stage-specific</text>
<text transform="translate(1781.9 182.0) rotate(-90)" font-size="32" text-anchor="middle">(8,944 eGenes)</text>
<text transform="translate(1746.2 496.3) rotate(-90)" font-size="32" text-anchor="middle">Stage-shared</text>
<text transform="translate(1781.9 496.4) rotate(-90)" font-size="32" text-anchor="middle">(14,067 eGenes)</text>
<circle cx="1957.9" cy="196.4" r="105.1" fill="#c0c0c0"/>
<path d="M1957.9 196.4L1957.9 91.30000000000001A105.1 105.1 0 0 1 2017.0 283.3Z" fill="#97c6e3" stroke="#2163ad" stroke-width="4" stroke-linejoin="round"/>
<circle cx="1957.9" cy="196.4" r="105.1" fill="none" stroke="#2163ad" stroke-width="4.1"/>
<circle cx="1957.5" cy="558" r="106.8" fill="#c0c0c0"/>
<path d="M1957.5 558L1957.5 451.2A106.8 106.8 0 0 1 2060.8 530.8Z" fill="#97c6e3" stroke="#d22a4b" stroke-width="4" stroke-linejoin="round"/>
<circle cx="1957.5" cy="558" r="106.8" fill="none" stroke="#d22a4b" stroke-width="4.1"/>
<text x="1966.5" y="194.6" font-size="32">40.5%</text>
<text x="1960.5" y="528.8" font-size="32">20.9%</text>
<rect x="1868.5" y="331.4" width="19.6" height="18.6" fill="#c0c0c0" stroke="#000" stroke-width="3.6"/>
<rect x="1868.5" y="402.8" width="19.6" height="18.6" fill="#97c6e3" stroke="#000" stroke-width="3.6"/>
<text x="1911.0" y="349.5" font-size="32">cis-eQTL</text>
<text x="1911.0" y="421.0" font-size="32">trans-eQTL</text>
<text transform="translate(8.0 860.3) scale(1.07 1)" font-size="48">c</text>
<rect x="222.1" y="1258.5" width="96.2" height="51.0" fill="#35204a"/>
<rect x="222.1" y="1309.5" width="96.2" height="77.9" fill="#3560a1"/>
<rect x="328.4" y="1296.0" width="96.2" height="13.5" fill="#35204a"/>
<rect x="328.4" y="1309.5" width="96.2" height="72.4" fill="#3560a1"/>
<rect x="434.8" y="1273.0" width="96.2" height="36.5" fill="#35204a"/>
<rect x="434.8" y="1309.5" width="96.2" height="109.3" fill="#3560a1"/>
<rect x="541.1" y="1247.5" width="96.2" height="62.0" fill="#35204a"/>
<rect x="541.1" y="1309.5" width="96.2" height="99.9" fill="#3560a1"/>
<rect x="647.4" y="1194.6" width="96.2" height="114.9" fill="#35204a"/>
<rect x="647.4" y="1309.5" width="96.2" height="103.3" fill="#3560a1"/>
<rect x="753.7" y="1013.3" width="96.2" height="296.2" fill="#35204a"/>
<rect x="753.7" y="1309.5" width="96.2" height="121.8" fill="#3560a1"/>
<path d="M191.6 926V1489M190.4 1487.7H881.5" stroke="#000" stroke-width="2.3" fill="none"/>
<text transform="translate(169.3 1470.4) scale(0.985 1)" font-size="45.5" text-anchor="end">-0.25</text>
<text transform="translate(169.3 1322.1) scale(0.985 1)" font-size="45.5" text-anchor="end">0.00</text>
<text transform="translate(169.3 1173.8) scale(0.985 1)" font-size="45.5" text-anchor="end">0.25</text>
<text transform="translate(169.3 1025.5) scale(0.985 1)" font-size="45.5" text-anchor="end">0.50</text>
<path d="M270.2 1488V1500M376.5 1488V1500M482.9 1488V1500M589.2 1488V1500M695.5 1488V1500M801.8 1488V1500M180 1458.6H191M180 1310.3H191M180 1162.0H191M180 1013.7H191" stroke="#000" stroke-width="2.5" fill="none"/>
<text transform="translate(270.2 1539.3) scale(1.045 1)" font-size="43.5" text-anchor="middle">1</text>
<text transform="translate(376.5 1539.3) scale(1.045 1)" font-size="43.5" text-anchor="middle">2</text>
<text transform="translate(482.9 1539.3) scale(1.045 1)" font-size="43.5" text-anchor="middle">3</text>
<text transform="translate(589.2 1539.3) scale(1.045 1)" font-size="43.5" text-anchor="middle">4</text>
<text transform="translate(695.5 1539.3) scale(1.045 1)" font-size="43.5" text-anchor="middle">5</text>
<text transform="translate(801.8 1539.3) scale(1.045 1)" font-size="43.5" text-anchor="middle">6</text>
<text transform="translate(518.0 1607.3) scale(1.064 1)" font-size="41.5" text-anchor="middle">Numbed of stages shared</text>
<text transform="translate(44.3 1240.0) scale(1.07 1) rotate(-90)" font-size="41.5" text-anchor="middle">Proportion of eQTLs</text>
<rect x="223.8" y="946.8" width="66.7" height="62.8" fill="#35204a"/>
<rect x="223.8" y="1015.8" width="66.7" height="63" fill="#3560a1"/>
<text transform="translate(310.3 989.0) scale(1.05 1)" font-size="44">significance (LSFR)</text>
<text transform="translate(311.3 1058.0) scale(1.05 1)" font-size="44">magnitude</text>
<text transform="translate(1053.0 859.5) scale(1.08 1)" font-size="48">d</text>
<text transform="translate(1468.9 852.5) scale(1.082 1)" font-size="40" text-anchor="middle">Comparison of stage-shared eQTL</text>
<text transform="translate(1474.3 902.5) scale(1.084 1)" font-size="40" text-anchor="middle">effect sizes between stages</text>
<polygon points="1447.8,1230.4 1448.6,1230.4 1448.6,1231.2 1583.8,1166.1 1584.6,1162.8 1584.8,1162.2 1585.0,1161.6 1585.3,1161.1 1585.6,1160.6 1586.0,1160.1 1586.5,1159.7 1587.0,1159.3 1609.5,1143.3 1623.5,1126.1 1627.1,1118.0 1632.3,1099.3 1634.9,1061.1 1633.3,1052.5 1601.5,1053.6 1590.7,1058.8 1576.7,1068.0 1570.4,1075.2 1570.0,1075.7 1569.5,1076.1 1562.7,1081.3 1562.2,1081.7 1561.7,1082.0 1561.1,1082.2 1560.6,1082.4 1560.0,1082.5 1559.4,1082.6 1558.8,1082.6 1558.2,1082.5 1557.6,1082.4 1542.2,1078.7 1528.8,1079.9 1528.3,1080.0 1525.8,1080.0 1447.8,1230.4" fill="#f8766d" stroke="#f8766d" stroke-width="5.0" stroke-linejoin="round"/>
<path d="M1632.2 1102.7h0M1605.3 1051.4h0M1546.7 1075.6h0M1622.4 1132.0h0M1630.5 1103.2h0M1538.3 1076.1h0M1549.4 1079.0h0M1624.0 1124.0h0M1549.4 1077.6h0M1636.2 1104.9h0M1627.3 1119.4h0M1532.6 1074.0h0M1526.5 1078.9h0M1596.1 1157.8h0M1630.0 1126.2h0M1626.2 1051.3h0M1579.9 1067.9h0M1597.4 1156.5h0M1634.5 1102.5h0M1608.6 1145.4h0M1618.8 1054.1h0M1622.4 1129.8h0M1634.7 1106.0h0M1635.1 1056.7h0M1605.0 1054.3h0M1615.3 1049.1h0M1547.2 1073.8h0M1623.7 1120.4h0M1610.8 1144.5h0M1637.3 1060.3h0M1632.5 1057.8h0M1606.2 1148.5h0M1606.6 1150.5h0M1611.2 1140.5h0M1608.7 1054.8h0M1638.7 1049.1h0M1595.7 1053.4h0M1634.6 1097.2h0M1567.1 1080.9h0M1611.7 1052.4h0M1637.8 1075.8h0M1585.5 1159.8h0M1586.1 1061.4h0M1566.4 1079.2h0M1587.6 1055.1h0M1611.3 1147.8h0M1630.9 1099.3h0M1618.2 1054.1h0M1631.1 1096.0h0M1620.8 1127.0h0M1573.5 1064.0h0M1592.6 1156.4h0M1546.1 1080.3h0M1631.0 1087.7h0M1588.3 1162.2h0M1562.1 1077.7h0M1534.2 1079.0h0M1560.8 1083.9h0M1621.2 1125.5h0M1535.1 1073.7h0M1631.7 1098.0h0M1613.8 1145.7h0M1629.7 1112.7h0M1607.9 1147.5h0M1534.3 1075.9h0M1588.4 1055.5h0M1618.1 1048.3h0M1599.3 1050.9h0M1612.8 1137.3h0M1590.5 1155.9h0M1593.7 1054.8h0M1602.1 1151.2h0M1590.6 1155.7h0M1553.0 1082.5h0M1592.7 1051.9h0M1579.6 1067.1h0M1545.7 1074.8h0M1627.5 1117.7h0M1551.3 1082.7h0M1534.7 1080.8h0M1635.3 1067.4h0M1616.1 1142.1h0M1544.6 1077.2h0M1567.0 1072.5h0M1637.5 1051.4h0M1639.4 1063.8h0M1529.2 1075.4h0M1613.4 1135.2h0M1551.4 1077.0h0M1600.2 1053.4h0M1625.2 1117.8h0M1545.8 1078.1h0M1633.6 1089.9h0M1630.2 1048.8h0M1570.4 1075.2h0M1587.9 1062.8h0M1638.1 1082.4h0M1598.2 1057.2h0M1606.1 1049.1h0M1562.5 1077.0h0M1628.4 1114.8h0M1630.5 1050.9h0M1638.3 1064.4h0M1547.0 1074.0h0M1570.4 1075.3h0M1637.3 1086.7h0M1552.2 1076.5h0M1584.4 1061.6h0M1625.8 1052.8h0M1592.7 1160.3h0M1637.5 1062.5h0M1640.2 1060.9h0M1633.2 1076.7h0M1581.4 1060.9h0M1567.2 1077.7h0M1636.2 1047.6h0M1616.8 1135.4h0M1639.3 1058.5h0M1635.2 1095.0h0M1630.5 1049.1h0M1565.8 1080.1h0M1587.1 1161.6h0M1634.9 1085.3h0M1639.7 1064.2h0M1596.3 1153.8h0M1624.3 1122.4h0M1569.4 1074.2h0M1633.0 1064.7h0M1622.4 1124.9h0M1625.9 1132.5h0M1588.5 1156.0h0M1596.4 1155.5h0M1583.5 1160.3h0M1633.3 1093.2h0M1609.7 1140.3h0M1599.4 1149.0h0M1533.7 1077.9h0M1600.7 1153.7h0M1637.1 1047.2h0M1553.9 1079.0h0M1588.8 1158.6h0M1598.9 1049.0h0M1610.1 1055.0h0M1589.8 1158.0h0M1638.7 1086.0h0M1630.5 1101.5h0M1558.7 1076.9h0M1556.3 1080.8h0M1634.4 1107.5h0M1601.1 1055.0h0M1590.4 1060.8h0M1626.1 1053.7h0M1602.1 1054.5h0M1585.3 1055.7h0M1633.2 1056.8h0M1585.0 1162.5h0M1621.2 1129.7h0M1612.7 1144.1h0M1546.1 1074.4h0M1616.5 1141.0h0M1634.6 1069.6h0M1635.1 1101.2h0M1634.8 1056.2h0M1632.2 1107.3h0M1638.4 1049.3h0M1578.7 1068.4h0M1529.4 1077.9h0M1627.5 1116.7h0M1583.8 1165.5h0M1634.9 1080.7h0M1637.5 1080.2h0M1589.2 1160.8h0M1607.4 1144.3h0M1595.6 1156.6h0M1609.2 1053.4h0M1590.8 1160.5h0M1561.4 1079.3h0M1563.4 1080.1h0M1636.2 1061.1h0M1613.8 1053.2h0M1628.0 1053.1h0M1532.9 1078.9h0M1639.5 1062.8h0M1628.6 1126.6h0M1573.5 1063.9h0M1590.9 1161.8h0M1617.0 1135.8h0M1605.5 1049.7h0M1639.5 1073.4h0M1545.1 1079.3h0M1553.6 1081.7h0M1533.3 1076.2h0M1639.8 1055.5h0M1590.1 1160.1h0M1589.6 1058.6h0M1619.4 1134.0h0M1612.9 1053.2h0M1562.0 1077.7h0M1633.4 1051.6h0M1582.2 1163.6h0M1552.5 1080.1h0M1552.2 1081.4h0M1622.9 1131.1h0M1593.6 1157.1h0M1631.2 1050.8h0M1537.7 1081.0h0M1627.9 1117.5h0M1634.0 1062.3h0M1630.3 1051.3h0M1557.7 1081.8h0M1611.9 1141.3h0M1591.8 1154.1h0M1615.5 1053.8h0M1598.8 1054.2h0M1572.8 1068.5h0M1620.5 1129.1h0M1599.3 1049.4h0M1586.5 1061.8h0M1627.5 1113.4h0M1595.0 1052.5h0M1633.5 1086.9h0M1611.2 1138.3h0M1578.5 1060.6h0M1603.3 1148.5h0M1631.8 1083.0h0M1548.1 1081.5h0M1609.4 1050.0h0M1625.6 1115.9h0M1572.4 1065.2h0M1636.2 1083.8h0M1532.7 1078.7h0M1638.3 1067.9h0M1612.6 1145.4h0M1633.7 1071.6h0M1630.5 1103.7h0M1614.1 1135.5h0M1633.8 1067.0h0M1640.0 1070.6h0M1622.3 1128.7h0M1530.5 1080.9h0M1620.0 1054.9h0M1564.2 1073.8h0M1559.1 1082.4h0M1624.5 1052.6h0M1594.2 1156.3h0M1609.7 1053.6h0M1633.4 1110.2h0M1551.2 1075.9h0M1622.4 1051.4h0M1552.2 1075.7h0M1611.5 1139.2h0M1590.5 1055.3h0M1609.8 1147.5h0M1622.1 1051.6h0M1599.0 1054.5h0M1570.9 1076.0h0M1601.9 1052.8h0M1625.0 1120.4h0M1586.8 1054.2h0M1565.3 1080.8h0M1619.5 1139.5h0M1611.6 1148.0h0M1635.0 1061.7h0M1606.1 1051.0h0M1585.8 1158.4h0M1593.1 1053.9h0M1635.8 1082.2h0M1586.6 1058.8h0M1626.3 1052.4h0M1604.6 1147.2h0M1634.2 1071.6h0M1639.4 1081.4h0M1635.4 1107.6h0M1619.8 1135.8h0M1574.1 1062.9h0M1543.2 1079.8h0M1632.9 1071.3h0M1603.5 1154.3h0M1594.8 1159.6h0M1599.3 1150.9h0M1534.5 1073.9h0M1630.3 1100.6h0M1543.2 1074.4h0M1580.4 1059.6h0M1632.1 1104.8h0M1593.0 1057.4h0M1547.4 1078.2h0M1606.4 1147.8h0M1634.5 1101.1h0M1584.2 1064.1h0M1571.5 1076.3h0M1554.0 1082.4h0M1634.9 1104.4h0M1636.8 1090.9h0M1601.7 1051.8h0M1613.8 1054.5h0M1552.5 1083.1h0M1561.7 1084.3h0M1613.9 1144.3h0M1635.3 1062.9h0M1541.0 1077.4h0M1603.6 1051.9h0M1634.5 1102.9h0M1597.7 1149.8h0M1542.0 1076.9h0M1632.9 1096.3h0M1593.6 1054.7h0M1612.4 1055.3h0M1622.6 1122.9h0M1565.1 1075.7h0M1634.1 1056.0h0M1529.5 1081.9h0M1626.8 1112.2h0M1634.1 1111.6h0M1531.0 1075.7h0M1612.4 1049.4h0M1621.3 1125.2h0M1578.1 1066.4h0M1623.8 1122.6h0M1612.0 1047.5h0M1636.0 1050.6h0M1590.5 1056.6h0M1583.1 1164.6h0M1593.0 1160.2h0M1549.8 1079.6h0M1612.3 1147.6h0M1616.1 1054.0h0M1610.3 1143.1h0M1566.3 1078.6h0M1638.7 1092.3h0M1637.3 1056.0h0M1586.4 1057.4h0M1635.6 1052.2h0M1606.4 1052.6h0M1544.7 1081.5h0M1597.7 1057.8h0M1541.2 1072.8h0M1636.2 1064.0h0M1532.4 1075.8h0M1634.1 1082.6h0M1579.2 1059.8h0M1549.3 1074.4h0M1592.9 1154.5h0M1632.1 1057.3h0M1637.0 1081.6h0M1558.8 1083.4h0M1638.2 1057.7h0M1544.8 1077.7h0M1604.4 1145.0h0M1638.7 1090.0h0M1614.7 1135.5h0M1634.1 1053.7h0M1635.4 1064.4h0M1601.4 1052.6h0M1598.4 1157.6h0M1586.3 1057.6h0M1632.5 1086.9h0M1529.3 1075.1h0M1621.7 1129.4h0M1550.3 1076.1h0M1595.9 1050.9h0M1617.2 1136.0h0M1601.6 1049.1h0M1633.6 1082.4h0M1636.2 1089.4h0M1616.6 1133.5h0M1615.5 1132.6h0M1598.1 1153.3h0M1568.0 1075.8h0M1531.1 1074.3h0M1593.2 1152.2h0M1600.9 1049.8h0M1568.3 1080.0h0M1556.6 1081.6h0M1626.9 1048.2h0M1613.3 1141.6h0M1591.3 1158.9h0M1625.8 1047.1h0M1633.6 1098.6h0M1623.3 1047.8h0M1561.8 1083.1h0M1616.9 1135.7h0M1603.7 1149.7h0M1634.6 1060.9h0M1631.1 1100.0h0M1572.6 1074.5h0M1630.6 1050.5h0M1628.0 1048.6h0M1617.9 1050.6h0M1543.6 1074.2h0M1619.6 1049.1h0M1620.9 1128.7h0M1583.0 1161.6h0M1567.6 1077.3h0M1636.5 1105.7h0M1583.2 1061.7h0M1637.8 1049.0h0M1593.4 1160.1h0M1587.2 1156.6h0M1598.0 1157.8h0M1559.3 1076.8h0M1625.1 1123.9h0M1627.1 1054.2h0M1636.3 1081.3h0M1637.6 1064.9h0M1529.1 1077.7h0M1574.8 1062.4h0M1634.5 1106.2h0M1625.8 1054.4h0M1584.7 1059.9h0M1615.0 1051.0h0M1555.0 1082.0h0M1598.5 1050.9h0M1537.0 1075.4h0M1543.6 1074.0h0M1629.5 1122.8h0M1634.3 1048.1h0M1563.0 1083.6h0M1606.6 1152.7h0M1594.6 1153.0h0M1630.8 1118.7h0M1599.0 1054.9h0M1629.9 1104.7h0M1627.9 1112.5h0M1634.2 1114.4h0M1561.5 1079.2h0M1631.8 1051.4h0M1608.5 1146.1h0M1600.6 1049.9h0M1538.1 1076.0h0M1572.2 1064.8h0M1576.5 1061.2h0M1630.8 1087.7h0M1595.8 1053.6h0M1566.3 1076.1h0M1630.3 1101.0h0M1623.5 1133.6h0M1611.7 1051.6h0M1602.6 1151.1h0M1592.2 1053.8h0M1634.2 1066.6h0M1557.4 1083.8h0M1614.8 1139.7h0M1633.5 1066.4h0M1587.1 1062.4h0M1561.1 1081.7h0M1639.8 1077.0h0M1614.2 1134.0h0M1610.8 1143.3h0M1587.4 1157.5h0M1591.1 1056.3h0M1619.7 1128.0h0M1632.6 1114.9h0M1540.2 1079.3h0M1558.6 1084.4h0M1627.6 1048.0h0M1577.1 1067.3h0M1598.7 1149.9h0M1573.4 1066.1h0M1597.6 1057.0h0M1583.8 1059.9h0M1590.1 1054.8h0M1565.6 1074.1h0M1559.3 1079.1h0M1588.7 1054.7h0M1526.6 1081.1h0M1606.9 1048.7h0M1603.2 1049.9h0M1621.1 1133.0h0M1565.2 1078.9h0M1638.5 1070.1h0M1593.3 1161.4h0M1630.9 1090.2h0M1618.5 1049.2h0M1542.2 1075.2h0M1546.3 1080.3h0M1529.7 1081.2h0M1606.3 1054.4h0M1558.7 1079.5h0M1555.2 1083.4h0M1529.9 1075.6h0M1632.0 1104.3h0M1632.3 1090.8h0M1541.7 1075.1h0M1634.2 1079.2h0M1633.7 1074.8h0M1542.3 1074.6h0M1638.4 1070.2h0M1632.8 1052.3h0M1628.2 1113.8h0M1631.2 1093.6h0M1600.3 1049.1h0M1529.7 1080.6h0M1627.8 1129.4h0M1607.1 1147.6h0M1619.4 1132.2h0M1549.9 1075.5h0M1605.3 1053.1h0M1629.3 1124.4h0M1623.6 1049.6h0M1533.3 1081.4h0M1547.1 1082.2h0M1625.7 1053.7h0M1525.7 1080.9h0M1568.6 1077.6h0M1589.4 1055.5h0M1582.9 1161.0h0M1557.4 1077.2h0M1619.5 1127.6h0M1565.0 1075.4h0M1622.0 1050.0h0M1597.4 1055.0h0M1597.9 1055.8h0M1630.7 1048.9h0M1637.5 1088.0h0M1548.4 1080.0h0M1562.0 1083.1h0M1633.5 1077.5h0M1627.7 1050.0h0M1595.4 1052.9h0M1616.2 1137.2h0M1592.4 1056.1h0M1628.7 1118.3h0M1635.8 1090.1h0M1616.4 1142.5h0M1591.9 1059.2h0M1598.1 1154.9h0M1632.9 1091.8h0M1638.2 1047.5h0M1594.1 1155.0h0M1599.0 1051.6h0M1570.2 1073.1h0M1538.6 1076.8h0M1633.7 1106.1h0M1624.9 1122.7h0M1549.0 1078.5h0M1634.0 1074.6h0M1598.6 1154.5h0M1635.8 1053.5h0M1556.0 1076.9h0M1549.2 1082.8h0M1539.6 1079.3h0M1620.5 1051.5h0M1622.5 1050.9h0M1639.6 1069.8h0M1635.9 1079.9h0M1591.9 1162.1h0M1637.5 1094.3h0M1609.9 1140.2h0M1632.9 1071.3h0M1567.2 1080.0h0M1560.8 1084.7h0M1574.5 1064.5h0M1585.0 1164.8h0M1633.0 1047.8h0M1580.3 1066.9h0M1579.2 1062.8h0M1613.4 1139.6h0M1540.1 1079.9h0M1632.8 1118.1h0M1630.3 1119.5h0M1632.8 1117.8h0M1630.3 1049.6h0M1594.3 1160.0h0M1566.9 1078.5h0M1589.8 1154.7h0M1632.2 1115.6h0M1570.0 1071.5h0M1635.2 1090.9h0M1616.2 1143.8h0M1577.4 1068.1h0M1548.7 1074.6h0M1553.4 1077.7h0M1544.0 1080.5h0M1623.7 1052.3h0M1609.7 1146.6h0M1594.5 1158.8h0M1581.4 1061.3h0M1632.1 1087.9h0M1600.1 1151.8h0M1565.0 1082.3h0M1633.8 1052.6h0M1595.2 1157.4h0M1612.5 1055.6h0M1558.8 1078.0h0M1617.4 1141.4h0M1569.6 1077.0h0M1591.6 1060.9h0M1598.6 1052.9h0M1632.4 1072.5h0M1550.5 1080.0h0M1632.9 1090.0h0M1570.3 1073.3h0M1589.2 1055.2h0M1634.7 1086.0h0M1598.4 1156.8h0M1638.9 1078.6h0M1631.2 1109.1h0M1601.5 1147.8h0M1632.6 1073.5h0M1631.2 1097.0h0M1534.5 1079.4h0M1566.8 1078.4h0M1549.2 1080.4h0M1626.3 1051.4h0M1536.5 1081.2h0M1544.6 1073.7h0M1578.3 1069.4h0M1635.4 1056.9h0M1606.6 1047.9h0M1528.3 1075.8h0M1528.0 1080.1h0M1582.2 1065.3h0M1587.3 1061.6h0M1607.6 1052.4h0M1570.8 1071.6h0M1566.7 1073.7h0M1609.2 1144.8h0M1636.3 1068.5h0M1591.7 1160.5h0M1584.7 1059.8h0M1587.1 1159.2h0M1624.3 1130.3h0M1608.7 1053.8h0M1633.4 1058.2h0M1596.6 1150.2h0M1635.9 1093.1h0M1584.1 1061.2h0M1563.9 1073.6h0M1606.5 1052.4h0M1635.2 1109.2h0M1632.3 1082.6h0M1602.8 1153.1h0M1593.2 1056.6h0M1537.7 1075.6h0M1601.2 1052.5h0M1616.9 1053.1h0M1628.2 1108.8h0M1623.6 1132.5h0M1529.0 1077.1h0M1541.2 1080.4h0M1608.6 1051.1h0M1631.1 1115.3h0M1604.2 1148.5h0M1594.7 1154.4h0M1618.4 1132.6h0M1611.6 1049.0h0M1635.3 1076.0h0M1588.9 1057.2h0M1632.4 1049.4h0M1569.5 1077.6h0M1639.0 1071.3h0M1614.3 1050.1h0M1629.0 1048.0h0M1594.7 1053.2h0M1579.4 1066.3h0M1622.8 1047.5h0M1637.3 1054.7h0M1602.6 1049.3h0M1620.3 1130.9h0M1585.9 1159.1h0M1637.3 1059.0h0M1583.1 1065.4h0M1594.0 1056.0h0M1584.4 1059.6h0M1539.5 1076.5h0M1634.7 1069.2h0M1630.9 1090.0h0M1531.6 1081.2h0M1614.7 1048.9h0M1632.1 1053.8h0M1544.6 1073.4h0M1633.2 1105.5h0M1623.4 1052.1h0M1564.8 1080.8h0M1600.1 1055.9h0M1544.7 1074.9h0M1537.1 1077.7h0M1564.3 1081.3h0M1626.5 1129.8h0M1594.8 1153.4h0M1634.7 1096.0h0M1628.0 1121.4h0M1596.3 1053.1h0M1536.5 1073.8h0M1603.9 1146.2h0M1588.9 1061.3h0M1631.9 1103.8h0M1558.9 1083.7h0M1627.8 1050.8h0M1579.0 1064.7h0M1540.7 1076.0h0M1636.8 1047.0h0M1549.8 1078.5h0M1609.8 1143.2h0M1615.7 1049.0h0M1601.6 1151.6h0M1633.3 1084.4h0M1638.4 1077.8h0M1626.3 1050.7h0M1639.9 1110.8h0M1537.0 1065.5h0M1632.4 1127.4h0M1641.5 1071.7h0M1639.9 1137.8h0M1561.1 1074.6h0M1615.2 1043.8h0M1636.6 1120.3h0M1583.9 1054.7h0M1645.7 1042.3h0M1554.7 1071.8h0M1639.7 1049.1h0M1641.1 1036.6h0M1577.8 1054.6h0M1641.9 1080.5h0M1643.1 1092.8h0M1550.7 1073.3h0M1641.1 1081.7h0M1637.1 1108.1h0M1568.6 1059.5h0M1577.5 1052.5h0M1639.3 1049.8h0M1638.3 1044.8h0M1549.6 1074.1h0M1631.0 1045.5h0M1640.5 1108.7h0M1611.9 1150.1h0M1632.3 1045.7h0M1641.6 1073.9h0M1641.7 1063.3h0M1640.1 1087.6h0M1616.9 1043.6h0M1626.3 1045.4h0M1535.2 1071.9h0M1539.8 1059.9h0M1599.5 1046.4h0M1556.6 1073.4h0M1643.8 1055.7h0M1619.5 1042.7h0M1579.1 1057.8h0M1562.6 1065.1h0M1635.7 1113.3h0M1636.6 1111.8h0M1642.3 1030.9h0M1638.7 1094.6h0M1567.7 1064.1h0M1641.2 1077.3h0M1613.6 1043.2h0M1552.7 1071.1h0M1641.0 1103.2h0M1640.2 1053.7h0M1638.9 1110.7h0M1613.9 1148.2h0M1641.2 1064.9h0M1592.4 1047.5h0M1636.2 1045.9h0M1641.7 1070.2h0M1638.1 1118.7h0M1575.3 1061.1h0M1572.9 1062.6h0M1625.4 1045.4h0M1610.9 1152.1h0M1614.2 1041.5h0M1540.7 1070.9h0M1643.8 1097.2h0M1581.0 1055.1h0M1642.6 1103.6h0M1645.0 1103.9h0M1628.1 1139.4h0M1595.1 1042.7h0M1641.0 1100.7h0M1642.1 1091.2h0M1591.9 1050.5h0M1641.5 1067.1h0M1638.1 1108.9h0M1638.2 1040.3h0M1640.9 1072.1h0M1637.9 1109.4h0M1565.7 1065.2h0M1641.7 1047.9h0M1644.5 1084.7h0M1607.5 1045.6h0M1559.3 1072.9h0M1545.0 1072.2h0M1636.2 1046.0h0M1641.0 1072.4h0M1644.0 1104.0h0M1546.3 1073.3h0M1585.1 1046.5h0M1592.1 1046.2h0M1602.0 1043.0h0M1546.1 1068.1h0M1591.0 1046.7h0M1602.4 1156.9h0M1612.1 1045.5h0M1644.0 1118.1h0M1619.4 1038.2h0M1531.6 1073.0h0M1633.9 1129.1h0M1649.4 1054.6h0M1625.6 1142.5h0M1579.7 1056.7h0M1623.6 1044.0h0M1578.8 1058.9h0M1620.3 1140.0h0M1588.2 1049.2h0M1648.6 1061.2h0M1621.0 1043.7h0M1557.8 1066.7h0M1639.9 1080.2h0M1632.0 1130.8h0M1640.1 1047.1h0M1657.5 1069.0h0M1641.3 1061.5h0M1638.4 1102.8h0M1587.6 1051.9h0M1643.8 1041.2h0M1644.5 1077.6h0M1563.1 1070.1h0M1571.4 1056.4h0M1641.0 1062.5h0M1637.9 1109.1h0M1613.3 1038.5h0M1641.6 1090.2h0M1587.2 1050.1h0M1604.9 1047.2h0M1631.1 1044.9h0M1628.5 1132.8h0M1592.8 1049.4h0M1618.1 1043.7h0M1640.5 1114.9h0M1628.7 1133.8h0M1642.7 1065.5h0M1640.8 1074.3h0M1640.1 1039.4h0M1573.6 1062.3h0M1602.8 1039.7h0M1636.5 1109.0h0M1578.0 1057.0h0M1629.4 1042.3h0M1629.9 1137.4h0M1625.2 1044.2h0M1636.5 1045.1h0M1638.2 1101.8h0M1638.9 1111.8h0M1593.3 1046.2h0M1630.7 1042.6h0M1637.1 1121.4h0M1633.6 1133.9h0M1562.4 1069.4h0M1634.4 1045.2h0M1615.0 1045.4h0M1605.9 1042.9h0M1639.5 1118.9h0M1639.5 1084.0h0M1557.6 1075.0h0M1581.3 1048.9h0M1632.9 1125.0h0M1639.1 1101.2h0M1583.5 1053.0h0M1644.9 1044.1h0M1641.2 1087.3h0M1636.0 1119.4h0M1634.3 1046.3h0M1652.5 1093.4h0M1641.7 1082.8h0M1573.4 1058.6h0M1614.1 1045.3h0M1534.8 1071.1h0M1639.0 1106.5h0M1609.5 1038.9h0M1635.4 1110.7h0M1568.3 1064.6h0M1603.0 1155.6h0M1564.2 1070.2h0M1640.6 1057.0h0M1640.8 1052.6h0M1588.8 1052.8h0M1578.2 1053.3h0M1641.3 1053.5h0M1532.2 1073.4h0M1550.6 1071.9h0M1536.3 1072.9h0M1530.8 1072.8h0M1629.2 1133.6h0M1651.1 1089.7h0M1635.0 1117.7h0M1637.9 1046.2h0M1646.1 1108.2h0M1582.2 1038.3h0M1638.0 1102.5h0M1641.8 1062.9h0M1566.0 1047.4h0M1639.5 1052.1h0M1540.9 1070.5h0M1643.2 1034.0h0M1633.0 1043.2h0M1631.3 1128.0h0M1626.0 1046.4h0M1632.5 1035.5h0M1641.2 1074.9h0M1640.2 1101.9h0M1646.3 1078.8h0M1642.0 1066.0h0M1545.9 1060.9h0M1621.7 1145.5h0M1569.9 1060.8h0M1643.7 1063.1h0M1638.4 1111.4h0M1640.8 1054.0h0M1643.0 1101.4h0M1595.5 1047.9h0M1587.6 1053.4h0M1573.3 1061.3h0M1643.3 1068.4h0M1650.7 1050.7h0M1642.6 1076.0h0M1576.9 1052.5h0M1538.0 1070.3h0M1533.3 1069.1h0M1561.9 1071.7h0M1548.0 1069.8h0M1600.3 1038.8h0M1587.1 1052.0h0M1596.6 1036.2h0M1597.1 1045.2h0M1614.3 1044.8h0M1643.2 1054.2h0M1565.8 1059.7h0M1626.5 1135.4h0M1617.7 1144.0h0M1611.8 1040.1h0M1636.2 1123.3h0M1532.6 1070.2h0M1536.2 1072.3h0M1639.9 1108.6h0M1534.9 1070.2h0M1642.3 1106.2h0M1640.7 1085.7h0M1602.0 1156.9h0M1637.7 1115.9h0M1599.1 1044.3h0M1633.7 1035.5h0M1637.2 1117.8h0M1640.1 1048.2h0M1538.6 1064.9h0M1584.4 1055.6h0M1641.4 1069.6h0M1542.2 1052.6h0M1571.3 1058.1h0M1597.7 1041.6h0M1650.8 1040.1h0M1643.2 1055.6h0M1536.9 1065.9h0M1645.3 1070.6h0M1609.2 1041.4h0M1591.2 1029.8h0M1564.0 1072.1h0M1643.8 1051.5h0M1628.3 1045.1h0M1598.7 1042.7h0M1570.5 1065.5h0M1629.9 1138.5h0M1647.7 1118.9h0M1619.1 1142.7h0M1643.1 1071.3h0M1642.0 1049.9h0M1540.7 1071.7h0M1589.3 1050.4h0M1638.9 1124.8h0M1641.5 1056.6h0M1639.6 1044.7h0M1608.3 1153.8h0M1621.6 1139.4h0M1605.8 1155.2h0M1641.7 1077.7h0M1639.7 1092.3h0M1645.0 1060.1h0M1644.4 1046.0h0M1634.9 1127.9h0M1595.1 1049.8h0M1645.4 1067.3h0M1647.5 1063.0h0M1644.4 1089.2h0M1641.0 1074.4h0M1635.7 1042.4h0M1604.6 1154.6h0M1577.8 1047.9h0M1593.2 1046.3h0M1637.5 1108.9h0M1540.4 1071.4h0M1589.7 1050.6h0M1614.2 1147.5h0M1648.3 1057.8h0M1636.9 1121.4h0M1642.7 1112.2h0M1562.1 1071.8h0M1533.4 1067.8h0M1594.0 1046.9h0M1649.1 1060.8h0M1601.6 1047.4h0M1613.1 1150.9h0M1615.8 1147.0h0M1641.5 1057.0h0M1612.6 1149.0h0M1634.0 1134.3h0M1600.1 1046.3h0M1620.8 1045.1h0M1622.3 1046.8h0M1618.8 1044.1h0M1611.6 1151.7h0M1580.8 1050.1h0M1590.1 1049.9h0M1635.2 1116.0h0M1552.9 1074.9h0M1567.3 1068.0h0M1545.8 1072.5h0M1570.0 1063.2h0M1538.4 1067.3h0M1639.0 1092.2h0M1647.4 1049.6h0M1598.4 1045.2h0M1592.1 1050.1h0M1606.2 1155.2h0M1623.1 1141.2h0M1626.0 1046.6h0M1573.8 1061.7h0M1601.2 1156.7h0M1595.8 1045.4h0M1555.3 1073.2h0M1590.4 1038.4h0M1597.3 1041.0h0M1632.8 1041.0h0M1641.0 1041.0h0M1556.3 1052.9h0M1560.4 1055.5h0M1565.8 1051.6h0M1548.1 1059.5h0M1553.5 1062.1h0M1576.8 1051.6h0M1583.6 1056.8h0M1651.9 1056.8h0M1651.9 1072.6h0M1651.9 1087.1h0M1650.5 1104.3h0M1649.2 1109.5h0M1651.9 1129.3h0M1643.7 1142.4h0" stroke="#f8766d" stroke-width="5.0" stroke-linecap="round" fill="none"/>
<polygon points="1446.2,1233.6 1445.4,1233.6 1445.4,1232.8 1286.5,1309.4 1286.3,1311.4 1286.3,1312.0 1286.1,1312.6 1285.9,1313.2 1285.7,1313.8 1285.4,1314.3 1285.0,1314.8 1284.6,1315.2 1272.4,1327.7 1263.0,1341.0 1261.7,1371.8 1268.8,1393.0 1273.0,1400.4 1296.5,1401.7 1325.8,1397.4 1364.8,1382.3 1365.4,1382.1 1366.0,1382.0 1366.6,1381.9 1367.3,1381.9 1369.2,1382.0 1446.2,1233.6" fill="#f8766d" stroke="#f8766d" stroke-width="5.0" stroke-linejoin="round"/>
<path d="M1256.9 1345.5h0M1274.2 1398.3h0M1262.4 1389.7h0M1264.2 1376.5h0M1268.7 1331.6h0M1259.9 1335.7h0M1261.6 1353.9h0M1310.3 1403.6h0M1310.8 1403.3h0M1274.9 1400.2h0M1260.2 1369.8h0M1285.8 1402.4h0M1287.6 1402.1h0M1270.7 1396.4h0M1305.6 1405.6h0M1323.2 1397.8h0M1359.4 1387.6h0M1259.0 1356.7h0M1280.9 1399.6h0M1353.7 1390.9h0M1284.5 1312.8h0M1355.9 1389.9h0M1354.9 1391.1h0M1258.4 1338.9h0M1365.9 1382.5h0M1281.8 1400.3h0M1283.4 1316.9h0M1325.3 1403.0h0M1289.8 1400.1h0M1364.9 1382.3h0M1267.4 1381.5h0M1357.8 1386.8h0M1300.4 1404.4h0M1269.6 1391.0h0M1324.6 1401.0h0M1272.4 1330.9h0M1360.1 1384.3h0M1351.8 1391.7h0M1258.1 1357.3h0M1333.4 1394.7h0M1341.9 1390.2h0M1292.1 1400.9h0M1279.1 1320.3h0M1305.8 1398.9h0M1310.6 1397.4h0M1293.3 1406.5h0M1278.6 1404.0h0M1285.5 1316.0h0M1270.1 1328.1h0M1306.0 1399.9h0M1294.0 1403.7h0M1340.8 1395.6h0M1305.7 1406.2h0M1302.3 1402.7h0M1267.8 1335.4h0M1335.5 1396.3h0M1281.9 1401.0h0M1333.6 1394.1h0M1341.1 1390.4h0M1286.2 1314.1h0M1271.1 1400.5h0M1281.7 1319.0h0M1265.7 1329.1h0M1363.5 1385.1h0M1295.2 1406.2h0M1267.5 1402.6h0M1344.9 1393.5h0M1301.3 1398.8h0M1322.2 1403.6h0M1272.6 1396.0h0M1274.2 1404.5h0M1267.5 1391.7h0M1280.9 1318.8h0M1317.8 1396.3h0M1290.1 1400.5h0M1334.0 1398.3h0M1308.3 1400.5h0M1299.6 1405.7h0M1300.7 1400.6h0M1340.7 1396.3h0M1310.3 1397.8h0M1264.1 1346.2h0M1261.8 1338.8h0M1272.4 1327.5h0M1283.5 1313.3h0M1282.3 1405.4h0M1278.6 1324.2h0M1270.5 1322.5h0M1345.9 1390.4h0M1264.0 1338.6h0M1358.4 1383.4h0M1276.9 1400.6h0M1261.8 1372.6h0M1319.1 1400.2h0M1263.3 1377.2h0M1268.5 1337.2h0M1260.6 1338.5h0M1263.3 1341.4h0M1268.7 1336.8h0M1360.2 1388.9h0M1349.8 1385.9h0M1273.3 1405.6h0M1283.6 1315.3h0M1348.8 1389.1h0M1339.3 1394.4h0M1258.4 1343.4h0M1342.1 1392.5h0M1339.4 1398.2h0M1364.4 1382.2h0M1259.4 1366.6h0M1267.0 1387.7h0M1344.6 1396.2h0M1341.9 1396.9h0M1273.1 1329.3h0M1325.4 1395.7h0M1267.1 1331.5h0M1284.8 1315.5h0M1268.1 1387.8h0M1313.2 1402.8h0M1266.1 1392.8h0M1360.3 1385.7h0M1324.7 1398.0h0M1334.8 1393.2h0M1260.6 1336.8h0M1256.9 1363.8h0M1356.4 1383.3h0M1301.8 1401.2h0M1280.8 1313.1h0M1262.2 1356.8h0M1361.9 1384.9h0M1263.0 1394.0h0M1267.7 1387.4h0M1278.5 1320.2h0M1275.3 1399.7h0M1261.0 1333.7h0M1263.2 1366.9h0M1263.8 1338.1h0M1343.9 1390.3h0M1259.0 1340.2h0M1259.2 1380.7h0M1263.2 1343.7h0M1270.7 1333.7h0M1287.1 1310.7h0M1327.6 1397.5h0M1276.1 1317.0h0M1319.3 1399.5h0M1268.6 1337.1h0M1291.7 1402.7h0M1329.8 1393.6h0M1307.0 1399.8h0M1260.4 1364.1h0M1345.8 1390.1h0M1284.6 1398.8h0M1279.9 1317.0h0M1260.4 1378.8h0M1267.9 1386.4h0M1273.3 1396.3h0M1264.4 1341.7h0M1258.2 1343.8h0M1362.7 1381.0h0M1275.1 1327.8h0M1286.4 1401.0h0M1256.5 1372.7h0M1278.8 1403.4h0M1261.2 1369.0h0M1335.3 1393.5h0M1269.5 1322.9h0M1262.3 1356.5h0M1258.8 1379.2h0M1262.0 1360.1h0M1317.4 1398.4h0M1280.5 1318.5h0M1283.8 1318.0h0M1338.2 1392.7h0M1293.3 1406.1h0M1327.3 1400.9h0M1255.8 1369.5h0M1340.1 1389.6h0M1363.6 1387.3h0M1268.5 1394.5h0M1258.6 1349.3h0M1286.4 1315.1h0M1257.1 1349.2h0M1345.6 1394.4h0M1350.2 1389.5h0M1326.9 1399.0h0M1279.3 1401.8h0M1261.9 1385.5h0M1256.7 1351.8h0M1286.8 1401.7h0M1327.2 1394.5h0M1353.3 1387.5h0M1277.4 1316.7h0M1286.0 1407.1h0M1279.1 1323.5h0M1352.8 1387.7h0M1277.4 1404.1h0M1299.2 1402.4h0M1269.1 1404.3h0M1301.5 1402.8h0M1315.8 1402.3h0M1261.9 1383.3h0M1304.5 1405.7h0M1261.0 1366.3h0M1348.8 1386.4h0M1361.5 1385.8h0M1305.7 1401.0h0M1321.8 1404.0h0M1260.9 1384.2h0M1275.2 1401.1h0M1271.5 1321.5h0M1259.5 1358.1h0M1287.1 1315.7h0M1333.0 1397.1h0M1360.1 1386.7h0M1272.8 1403.0h0M1284.5 1316.3h0M1257.8 1371.6h0M1263.1 1344.8h0M1340.2 1393.4h0M1287.1 1401.4h0M1335.2 1399.5h0M1282.4 1314.1h0M1363.2 1381.3h0M1284.1 1316.8h0M1312.7 1398.9h0M1264.2 1349.9h0M1265.2 1382.2h0M1258.1 1343.0h0M1301.5 1401.5h0M1257.3 1372.2h0M1260.4 1335.5h0M1343.9 1391.2h0M1264.0 1381.8h0M1345.4 1390.5h0M1352.2 1390.3h0M1262.3 1362.2h0M1297.8 1401.7h0M1259.6 1349.3h0M1323.9 1398.7h0M1258.7 1359.8h0M1258.3 1363.6h0M1280.0 1399.0h0M1258.3 1348.5h0M1360.6 1382.4h0M1277.3 1322.5h0M1261.1 1339.6h0M1261.3 1361.5h0M1257.1 1347.7h0M1272.1 1394.0h0M1261.2 1337.2h0M1262.7 1378.4h0M1270.6 1405.5h0M1265.9 1327.2h0M1340.0 1392.6h0M1262.9 1373.6h0M1357.3 1385.3h0M1312.9 1399.0h0M1265.2 1327.6h0M1263.9 1350.1h0M1326.0 1398.5h0M1264.5 1336.1h0M1261.1 1377.0h0M1309.2 1401.8h0M1318.9 1398.5h0M1287.6 1312.0h0M1257.7 1341.6h0M1348.4 1386.4h0M1328.7 1400.9h0M1283.8 1312.9h0M1332.1 1398.6h0M1260.5 1365.1h0M1342.5 1388.4h0M1278.1 1399.4h0M1361.4 1385.9h0M1360.3 1390.0h0M1342.6 1394.8h0M1284.6 1312.2h0M1363.0 1382.8h0M1277.2 1319.3h0M1361.4 1389.3h0M1263.9 1339.7h0M1276.8 1403.1h0M1272.7 1400.1h0M1338.9 1392.0h0M1364.5 1382.3h0M1263.9 1379.9h0M1354.4 1390.3h0M1260.3 1349.5h0M1298.6 1403.4h0M1311.1 1400.5h0M1296.3 1407.3h0M1307.3 1404.8h0M1307.6 1403.8h0M1267.9 1389.2h0M1265.1 1391.6h0M1267.5 1402.8h0M1305.0 1405.1h0M1268.3 1328.7h0M1267.3 1327.8h0M1270.2 1400.2h0M1315.4 1403.8h0M1258.2 1343.1h0M1331.1 1398.4h0M1266.2 1390.2h0M1315.0 1404.3h0M1306.1 1406.0h0M1272.4 1406.1h0M1284.4 1401.6h0M1268.3 1386.6h0M1355.5 1392.1h0M1271.3 1330.0h0M1263.1 1369.0h0M1307.2 1401.9h0M1257.1 1352.2h0M1259.5 1361.3h0M1365.1 1387.8h0M1269.6 1322.3h0M1289.1 1400.3h0M1263.9 1378.9h0M1310.6 1404.9h0M1295.4 1401.5h0M1282.9 1404.9h0M1259.7 1361.1h0M1273.8 1402.6h0M1262.8 1386.5h0M1306.9 1399.4h0M1278.7 1405.8h0M1282.2 1400.6h0M1259.9 1351.7h0M1270.6 1393.4h0M1341.0 1390.2h0M1280.7 1314.0h0M1349.8 1391.4h0M1337.6 1395.6h0M1262.9 1366.8h0M1256.5 1369.4h0M1313.8 1397.3h0M1270.3 1328.9h0M1259.3 1383.3h0M1258.4 1378.5h0M1261.4 1342.3h0M1260.7 1338.2h0M1298.8 1400.8h0M1267.3 1393.3h0M1359.8 1387.5h0M1267.4 1390.2h0M1263.6 1382.1h0M1347.9 1389.0h0M1279.7 1402.1h0M1299.2 1400.6h0M1324.1 1398.0h0M1366.4 1382.1h0M1259.8 1359.5h0M1258.6 1339.3h0M1362.5 1384.7h0M1319.2 1399.9h0M1264.8 1334.1h0M1267.7 1324.3h0M1280.1 1401.7h0M1261.3 1342.8h0M1273.1 1326.8h0M1256.8 1375.7h0M1292.8 1402.2h0M1265.4 1338.5h0M1266.1 1329.8h0M1263.9 1354.1h0M1304.0 1403.4h0M1282.5 1405.8h0M1281.3 1317.1h0M1260.8 1343.8h0M1265.2 1394.1h0M1292.0 1399.4h0M1306.4 1404.2h0M1259.2 1368.1h0M1275.7 1405.0h0M1265.4 1389.3h0M1269.2 1334.9h0M1273.7 1401.3h0M1270.2 1393.8h0M1334.5 1397.6h0M1259.4 1364.2h0M1300.5 1400.1h0M1286.4 1406.8h0M1264.3 1393.9h0M1357.3 1391.4h0M1262.7 1366.5h0M1346.5 1387.8h0M1359.0 1385.8h0M1271.9 1327.6h0M1272.1 1324.8h0M1365.9 1382.8h0M1339.3 1395.8h0M1266.7 1327.6h0M1341.8 1391.3h0M1257.9 1373.0h0M1261.1 1364.8h0M1309.2 1398.5h0M1295.1 1404.7h0M1279.6 1399.9h0M1335.1 1391.5h0M1257.3 1370.9h0M1285.0 1401.8h0M1342.4 1394.7h0M1280.0 1314.5h0M1289.6 1407.0h0M1356.3 1390.7h0M1328.5 1402.0h0M1323.1 1399.1h0M1271.0 1330.5h0M1319.9 1400.8h0M1285.2 1312.1h0M1278.3 1400.7h0M1260.6 1358.3h0M1274.7 1320.9h0M1329.9 1394.6h0M1303.3 1404.6h0M1325.9 1396.2h0M1332.3 1396.6h0M1264.2 1383.8h0M1264.9 1340.5h0M1266.8 1337.6h0M1344.7 1392.1h0M1285.5 1406.8h0M1267.1 1389.6h0M1335.3 1395.4h0M1332.3 1393.4h0M1272.1 1405.5h0M1274.1 1321.4h0M1267.7 1335.6h0M1270.9 1324.0h0M1260.0 1340.6h0M1325.3 1397.1h0M1345.0 1395.1h0M1273.3 1398.8h0M1367.6 1382.3h0M1261.9 1372.6h0M1267.1 1401.3h0M1305.0 1401.7h0M1327.6 1401.8h0M1308.8 1404.4h0M1337.0 1397.6h0M1259.5 1377.1h0M1274.0 1319.0h0M1337.0 1395.1h0M1264.3 1388.1h0M1352.1 1385.2h0M1277.8 1322.5h0M1263.7 1356.0h0M1256.3 1364.1h0M1258.2 1338.2h0M1313.0 1397.2h0M1264.7 1336.6h0M1273.4 1397.4h0M1360.9 1384.1h0M1273.1 1319.1h0M1267.3 1393.3h0M1263.6 1392.4h0M1272.8 1395.6h0M1308.9 1400.8h0M1285.4 1312.4h0M1316.8 1396.5h0M1280.9 1317.8h0M1260.3 1353.1h0M1262.2 1353.7h0M1318.8 1401.8h0M1262.0 1383.9h0M1262.8 1339.7h0M1264.6 1377.7h0M1369.8 1380.8h0M1298.2 1400.1h0M1266.3 1399.0h0M1307.6 1404.8h0M1273.6 1324.5h0M1359.0 1384.5h0M1257.8 1344.7h0M1309.4 1397.6h0M1353.3 1386.6h0M1350.2 1387.0h0M1264.2 1368.2h0M1266.4 1339.5h0M1258.7 1379.2h0M1274.9 1321.0h0M1263.3 1339.7h0M1263.9 1341.6h0M1345.4 1395.0h0M1363.5 1384.0h0M1271.9 1404.0h0M1266.1 1383.4h0M1327.9 1397.3h0M1279.1 1322.0h0M1275.3 1399.6h0M1343.5 1393.7h0M1366.3 1380.3h0M1351.2 1389.6h0M1273.0 1397.7h0M1258.3 1375.1h0M1268.9 1327.6h0M1261.6 1389.8h0M1273.9 1324.3h0M1267.2 1334.4h0M1262.4 1347.1h0M1266.3 1337.0h0M1268.3 1330.7h0M1312.7 1404.6h0M1259.3 1347.3h0M1357.7 1382.5h0M1318.2 1398.8h0M1343.9 1395.2h0M1264.4 1337.5h0M1259.5 1374.4h0M1327.4 1401.9h0M1263.7 1340.8h0M1267.8 1332.7h0M1355.7 1383.7h0M1258.5 1376.7h0M1348.7 1390.8h0M1357.2 1383.0h0M1275.0 1403.1h0M1274.0 1326.4h0M1261.8 1382.0h0M1261.0 1357.5h0M1257.9 1358.6h0M1370.0 1380.3h0M1316.4 1401.1h0M1277.8 1317.3h0M1358.8 1389.9h0M1355.3 1389.0h0M1295.9 1404.3h0M1259.8 1343.3h0M1358.4 1386.5h0M1354.1 1390.8h0M1284.8 1316.1h0M1263.5 1362.4h0M1310.7 1405.4h0M1315.9 1397.6h0M1294.5 1402.9h0M1287.0 1403.0h0M1288.7 1406.8h0M1261.4 1339.4h0M1315.0 1399.3h0M1258.3 1376.6h0M1364.8 1387.1h0M1300.1 1401.2h0M1273.7 1327.5h0M1279.2 1320.0h0M1272.1 1404.5h0M1362.5 1387.5h0M1273.8 1325.4h0M1265.3 1335.2h0M1262.0 1387.3h0M1264.2 1337.5h0M1283.8 1405.8h0M1326.0 1399.7h0M1270.5 1400.0h0M1361.8 1382.1h0M1288.4 1406.9h0M1326.3 1399.1h0M1299.4 1407.1h0M1343.1 1391.5h0M1266.7 1338.2h0M1334.4 1399.6h0M1346.3 1392.2h0M1260.4 1379.2h0M1260.1 1385.6h0M1291.7 1405.0h0M1306.5 1401.9h0M1282.4 1404.5h0M1356.2 1384.4h0M1343.5 1390.2h0M1260.7 1336.7h0M1258.7 1354.9h0M1269.8 1326.5h0M1270.1 1399.6h0M1264.2 1394.1h0M1294.3 1400.2h0M1262.3 1338.0h0M1260.0 1369.9h0M1277.5 1318.4h0M1289.3 1406.2h0M1272.2 1395.6h0M1352.3 1389.4h0M1328.9 1401.5h0M1273.1 1318.5h0M1340.0 1392.0h0M1280.8 1400.7h0M1264.2 1387.7h0M1257.0 1370.3h0M1281.1 1321.1h0M1264.2 1361.7h0M1286.5 1400.2h0M1357.0 1384.8h0M1264.6 1351.2h0M1343.5 1393.9h0M1354.4 1389.2h0M1363.2 1388.2h0M1265.7 1336.1h0M1260.5 1377.4h0M1276.9 1398.8h0M1272.4 1404.0h0M1263.0 1381.8h0M1351.8 1386.6h0M1304.6 1398.3h0M1273.0 1406.2h0M1313.0 1399.4h0M1303.7 1405.9h0M1290.0 1405.8h0M1278.8 1399.7h0M1272.1 1399.3h0M1296.4 1402.2h0M1260.9 1343.9h0M1279.9 1317.0h0M1263.2 1372.1h0M1323.7 1399.5h0M1262.2 1359.1h0M1292.6 1401.1h0M1368.2 1382.9h0M1276.1 1319.9h0M1257.5 1356.4h0M1269.9 1401.1h0M1349.8 1387.4h0M1260.4 1338.0h0M1314.6 1402.1h0M1276.5 1317.5h0M1269.5 1390.4h0M1282.3 1401.4h0M1300.5 1404.6h0M1259.6 1375.7h0M1263.1 1392.1h0M1269.1 1403.9h0M1293.1 1402.3h0M1330.0 1395.4h0M1274.4 1324.7h0M1269.3 1329.8h0M1319.0 1401.2h0M1269.7 1404.0h0M1277.9 1321.1h0M1285.2 1406.5h0M1273.2 1399.1h0M1344.7 1390.2h0M1363.4 1383.4h0M1357.3 1387.1h0M1290.0 1402.0h0M1336.8 1394.6h0M1268.6 1397.3h0M1310.8 1400.0h0M1276.5 1399.8h0M1355.5 1391.0h0M1339.9 1395.1h0M1274.6 1324.7h0M1350.8 1399.5h0M1333.6 1406.1h0M1308.8 1406.9h0M1328.1 1407.4h0M1249.2 1357.1h0M1253.9 1376.0h0M1300.2 1410.1h0M1279.7 1407.9h0M1295.9 1407.9h0M1355.5 1402.2h0M1245.3 1357.9h0M1270.0 1407.3h0M1252.5 1386.5h0M1313.5 1419.8h0M1291.7 1409.7h0M1253.2 1390.5h0M1330.9 1402.5h0M1257.3 1385.8h0M1251.5 1362.9h0M1339.4 1400.1h0M1313.5 1419.4h0M1285.5 1422.7h0M1327.5 1412.2h0M1254.4 1368.7h0M1267.4 1408.9h0M1322.1 1407.1h0M1249.6 1336.5h0M1263.0 1397.5h0M1263.3 1329.0h0M1259.1 1387.8h0M1255.0 1375.0h0M1310.0 1407.8h0M1241.6 1371.1h0M1282.4 1408.2h0M1360.8 1393.8h0M1283.2 1407.2h0M1285.6 1407.4h0M1259.2 1328.4h0M1312.2 1406.6h0M1255.0 1332.4h0M1346.6 1396.0h0M1255.1 1365.1h0M1274.3 1415.5h0M1252.5 1375.5h0M1265.3 1323.6h0M1259.6 1335.1h0M1260.3 1400.0h0M1307.6 1406.9h0M1253.8 1359.8h0M1352.6 1396.2h0M1319.7 1410.3h0M1273.1 1409.8h0M1264.1 1397.9h0M1249.6 1364.1h0M1255.5 1406.2h0M1295.1 1407.8h0M1348.5 1404.0h0M1341.7 1401.8h0M1300.7 1408.9h0M1330.0 1405.3h0M1256.6 1349.4h0M1290.3 1408.2h0M1254.7 1353.7h0M1325.3 1406.2h0M1265.3 1409.8h0M1283.2 1407.2h0M1262.1 1392.3h0M1318.0 1407.7h0M1326.5 1404.0h0M1341.5 1407.4h0M1307.6 1417.6h0M1260.7 1402.0h0M1316.8 1405.2h0M1251.1 1381.7h0M1283.1 1407.8h0M1254.9 1362.3h0M1339.8 1415.2h0M1239.9 1346.6h0M1298.0 1427.5h0M1264.5 1402.1h0M1357.1 1395.8h0M1355.1 1400.4h0M1264.2 1397.5h0M1344.0 1400.7h0M1253.7 1379.6h0M1250.2 1346.2h0M1258.5 1397.3h0M1257.6 1332.5h0M1317.5 1415.7h0M1254.4 1385.4h0M1318.1 1412.7h0M1267.3 1322.2h0M1291.8 1418.4h0M1331.6 1406.0h0M1310.1 1408.5h0M1356.8 1400.9h0M1255.6 1368.1h0M1252.4 1367.0h0M1258.5 1386.7h0M1321.4 1406.9h0M1336.4 1401.1h0M1256.0 1344.0h0M1250.4 1352.6h0M1250.3 1332.0h0M1260.5 1396.9h0M1250.7 1385.0h0M1255.6 1354.0h0M1334.4 1412.5h0M1275.1 1408.0h0M1328.5 1402.8h0M1262.6 1397.1h0M1258.4 1398.9h0M1304.4 1407.3h0M1255.7 1379.4h0M1321.4 1405.5h0M1326.1 1405.9h0M1250.1 1351.1h0M1253.7 1342.1h0M1261.5 1391.4h0M1290.9 1411.5h0M1262.9 1329.6h0M1266.5 1401.2h0M1259.7 1389.5h0M1265.6 1404.3h0M1320.9 1411.0h0M1324.0 1404.5h0M1256.5 1385.9h0M1341.0 1401.2h0M1262.3 1394.8h0M1240.1 1370.5h0M1253.6 1343.2h0M1347.7 1401.3h0M1303.1 1410.6h0M1344.7 1398.8h0M1324.7 1412.3h0M1319.2 1417.3h0M1248.5 1354.6h0M1255.1 1339.6h0M1284.3 1409.5h0M1267.3 1402.8h0M1261.5 1391.5h0M1246.8 1361.1h0M1344.4 1397.9h0M1359.2 1396.5h0M1303.9 1408.3h0M1255.9 1375.4h0M1294.8 1408.0h0M1255.5 1382.4h0M1271.0 1319.4h0M1261.5 1408.4h0M1257.8 1335.6h0M1269.6 1407.4h0M1251.2 1377.8h0M1345.1 1402.9h0M1318.1 1408.1h0M1314.7 1408.7h0M1264.5 1321.6h0M1248.6 1374.2h0M1341.1 1403.6h0M1327.9 1411.3h0M1253.9 1359.2h0M1245.4 1334.7h0M1264.8 1399.7h0M1254.9 1353.1h0M1261.1 1322.1h0M1258.5 1392.1h0M1235.6 1346.8h0M1243.7 1363.5h0M1289.5 1408.6h0M1293.1 1414.7h0M1261.7 1402.8h0M1254.3 1358.3h0M1288.7 1409.9h0M1315.5 1405.7h0M1362.0 1394.1h0M1261.0 1390.5h0M1275.6 1413.6h0M1262.2 1398.9h0M1255.5 1335.6h0M1248.5 1352.8h0M1344.7 1401.0h0M1298.2 1423.6h0M1300.3 1408.5h0M1338.7 1400.4h0M1253.7 1355.4h0M1244.8 1355.5h0M1345.9 1405.6h0M1258.5 1428.7h0M1256.2 1358.6h0M1361.5 1390.6h0M1271.0 1318.2h0M1263.9 1329.0h0M1357.4 1396.1h0M1314.5 1406.8h0M1258.3 1381.5h0M1319.4 1407.9h0M1321.2 1408.0h0M1301.4 1407.6h0M1265.5 1408.6h0M1243.5 1380.0h0M1284.0 1407.8h0M1247.9 1371.8h0M1258.7 1328.1h0M1255.4 1353.8h0M1251.9 1393.1h0M1300.3 1409.3h0M1289.7 1411.0h0M1347.6 1396.7h0M1354.4 1395.8h0M1295.8 1411.0h0M1254.7 1381.5h0M1307.4 1406.8h0M1350.1 1402.0h0M1309.1 1410.7h0M1329.3 1405.5h0M1307.8 1410.7h0M1271.8 1410.2h0M1257.0 1383.7h0M1274.0 1407.0h0M1248.7 1353.3h0M1335.5 1400.1h0M1342.0 1416.9h0M1272.4 1318.6h0M1299.0 1412.0h0M1336.7 1400.1h0M1251.5 1380.3h0M1268.4 1408.1h0M1337.3 1405.3h0M1335.6 1402.0h0M1343.6 1398.3h0M1273.4 1317.6h0M1252.6 1349.2h0M1251.8 1339.3h0M1256.0 1355.9h0M1311.9 1405.8h0M1253.7 1341.4h0M1269.1 1418.7h0M1318.4 1432.8h0M1247.5 1371.8h0M1253.0 1342.7h0M1251.3 1354.4h0M1327.0 1410.3h0M1254.9 1361.5h0M1263.6 1398.2h0M1293.8 1410.1h0M1259.4 1386.9h0M1262.3 1328.5h0M1323.4 1414.8h0M1360.8 1394.5h0M1241.3 1358.1h0M1264.6 1408.1h0M1286.5 1413.3h0M1320.7 1404.6h0M1256.1 1339.9h0M1250.1 1374.9h0M1258.1 1399.2h0M1313.5 1409.0h0M1279.8 1409.4h0M1267.6 1410.0h0M1338.0 1402.9h0M1246.4 1350.8h0M1309.0 1407.7h0M1337.6 1400.1h0M1310.2 1407.2h0M1247.7 1383.8h0M1265.0 1401.2h0M1255.5 1362.2h0M1287.3 1408.9h0M1340.9 1399.2h0M1271.6 1318.7h0M1257.8 1382.8h0M1251.3 1349.4h0M1306.9 1406.8h0M1351.2 1398.5h0M1259.7 1334.6h0M1254.8 1358.1h0M1270.0 1406.8h0M1253.2 1370.2h0M1300.9 1415.3h0M1356.5 1401.8h0M1286.7 1407.4h0M1323.9 1406.9h0M1355.0 1393.5h0M1273.6 1317.3h0M1269.8 1408.9h0M1264.2 1324.8h0M1252.9 1366.6h0M1258.8 1335.8h0M1259.2 1394.2h0M1254.9 1360.5h0M1252.3 1392.1h0M1313.8 1408.0h0M1253.8 1367.3h0M1240.3 1352.3h0M1342.6 1407.8h0M1254.6 1367.0h0M1306.2 1406.4h0M1340.6 1412.7h0M1256.2 1357.8h0M1326.5 1406.2h0M1242.1 1342.6h0M1227.1 1353.2h0M1216.1 1372.9h0M1242.1 1382.1h0M1242.1 1387.4h0M1250.3 1363.7h0M1250.3 1370.3h0M1250.3 1384.8h0M1250.3 1392.7h0M1250.3 1400.6h0M1242.1 1412.4h0M1270.8 1423.0h0M1273.5 1433.5h0M1276.2 1444.0h0M1292.6 1425.6h0M1281.7 1413.7h0M1288.5 1416.4h0M1296.7 1413.7h0M1311.8 1413.7h0M1320.0 1413.7h0M1326.8 1423.0h0M1321.3 1423.0h0M1337.7 1412.4h0M1329.5 1415.1h0M1315.9 1419.0h0M1303.6 1417.7h0" stroke="#f8766d" stroke-width="5.0" stroke-linecap="round" fill="none"/>
<polygon points="1440.2,1228.7 1440.2,1225.4 1443.6,1225.4 1394.3,1130.4 1391.7,1130.7 1390.9,1130.7 1390.1,1130.6 1389.3,1130.5 1388.5,1130.3 1378.9,1127.2 1368.2,1131.4 1355.5,1137.5 1346.5,1144.0 1341.4,1152.8 1340.3,1165.7 1342.8,1177.7 1342.9,1178.5 1343.3,1182.0 1440.2,1228.7" fill="#00bfc4" stroke="#00bfc4" stroke-width="5.8" stroke-linejoin="round"/>
<path d="M1378.8 1127.2h0M1365.9 1132.6h0M1341.6 1175.0h0M1340.8 1162.5h0M1360.3 1130.1h0M1340.5 1150.4h0M1347.2 1134.0h0M1344.6 1142.4h0M1336.9 1160.8h0M1372.7 1129.1h0M1353.9 1137.8h0M1342.7 1162.9h0M1336.6 1160.3h0M1337.2 1149.1h0M1334.3 1151.1h0M1347.7 1137.3h0M1345.2 1141.4h0M1337.8 1167.7h0M1353.3 1137.4h0M1359.8 1127.6h0M1387.0 1126.0h0M1335.0 1153.3h0M1340.5 1170.7h0M1366.8 1126.9h0M1387.3 1128.4h0M1389.1 1126.2h0M1340.9 1153.2h0M1378.3 1125.7h0M1362.9 1135.6h0M1366.3 1131.3h0M1334.4 1171.8h0M1386.9 1128.0h0M1385.5 1128.7h0M1335.7 1151.1h0M1338.6 1177.8h0M1340.7 1165.7h0M1370.0 1122.4h0M1337.2 1149.6h0M1341.5 1139.7h0M1345.4 1179.0h0M1350.9 1131.9h0M1333.2 1163.8h0M1386.3 1128.8h0M1335.7 1158.9h0M1381.8 1130.0h0M1359.0 1134.5h0M1338.4 1160.9h0M1342.4 1174.1h0M1347.0 1140.2h0M1388.4 1124.4h0M1338.7 1170.3h0M1359.0 1127.7h0M1379.6 1125.6h0M1333.5 1169.8h0M1367.4 1130.9h0M1347.5 1146.8h0M1386.0 1129.1h0M1340.6 1180.7h0M1334.5 1172.3h0M1341.6 1170.0h0M1377.9 1119.9h0M1361.9 1126.3h0M1377.9 1123.0h0M1365.6 1130.3h0M1334.0 1159.1h0M1341.3 1159.4h0M1372.6 1130.1h0M1337.2 1165.4h0M1364.7 1129.7h0M1379.9 1125.6h0M1360.3 1133.9h0M1361.7 1132.8h0M1347.5 1147.2h0M1341.0 1175.5h0M1388.7 1125.8h0M1343.4 1155.5h0M1392.5 1128.8h0M1368.6 1123.5h0M1358.7 1131.5h0M1371.0 1132.3h0M1340.0 1158.6h0M1342.8 1140.0h0M1390.0 1127.4h0M1342.0 1167.3h0M1364.9 1132.1h0M1336.4 1166.0h0M1336.3 1146.1h0M1340.0 1176.5h0M1353.4 1129.7h0M1338.0 1161.1h0M1357.5 1131.0h0M1364.9 1126.7h0M1358.5 1130.3h0M1341.5 1173.1h0M1386.8 1125.4h0M1377.8 1126.8h0M1344.3 1137.1h0M1356.0 1137.3h0M1348.7 1137.7h0M1337.9 1155.8h0M1358.5 1129.8h0M1360.5 1137.7h0M1373.4 1122.0h0M1337.1 1146.2h0M1339.1 1176.9h0M1350.9 1138.0h0M1338.5 1143.9h0M1354.8 1132.3h0M1334.7 1176.8h0M1345.1 1178.1h0M1362.0 1135.2h0M1337.6 1158.9h0M1389.9 1125.1h0M1365.1 1130.0h0M1386.0 1128.4h0M1372.4 1128.2h0M1357.0 1135.0h0M1335.9 1158.6h0M1347.6 1147.3h0M1374.7 1122.6h0M1338.3 1154.4h0M1367.5 1132.7h0M1370.7 1130.3h0M1340.3 1177.9h0M1343.6 1151.2h0M1336.0 1172.6h0M1339.5 1175.8h0M1334.1 1170.8h0M1335.0 1174.6h0M1341.4 1162.4h0M1388.3 1125.7h0M1392.7 1128.4h0M1335.6 1148.9h0M1346.9 1136.9h0M1341.8 1158.9h0M1391.4 1126.9h0M1340.1 1157.7h0M1366.8 1132.2h0M1379.4 1124.1h0M1363.2 1136.5h0M1391.7 1128.1h0M1383.7 1126.0h0M1364.5 1129.9h0M1375.5 1128.8h0M1381.5 1128.0h0M1390.4 1130.0h0M1333.2 1158.1h0M1379.3 1127.6h0M1375.4 1124.1h0M1345.4 1144.3h0M1376.0 1129.1h0M1345.6 1135.2h0M1366.6 1129.1h0M1335.1 1157.7h0M1338.7 1170.7h0M1375.1 1123.4h0M1338.6 1165.5h0M1350.4 1140.3h0M1375.4 1130.3h0M1353.4 1132.9h0M1391.6 1128.8h0M1342.0 1163.7h0M1370.3 1122.7h0M1339.9 1146.2h0M1337.4 1160.4h0M1349.3 1142.1h0M1371.8 1127.4h0M1346.6 1136.6h0M1363.0 1132.2h0M1374.2 1124.6h0M1341.5 1179.7h0M1340.7 1165.6h0M1347.5 1139.9h0M1339.4 1155.1h0M1374.4 1121.5h0M1335.5 1164.0h0M1344.6 1173.9h0M1335.7 1147.1h0M1335.5 1168.4h0M1336.8 1168.5h0M1338.6 1155.4h0M1342.9 1151.9h0M1344.4 1179.5h0M1339.3 1156.6h0M1363.4 1128.6h0M1341.4 1161.0h0M1338.5 1168.3h0M1354.7 1137.7h0M1382.2 1125.8h0M1342.2 1171.1h0M1379.4 1128.7h0M1334.8 1169.4h0M1342.0 1179.8h0M1335.5 1147.8h0M1358.7 1135.5h0M1338.7 1149.4h0M1385.1 1123.2h0M1381.4 1125.5h0M1343.1 1173.9h0M1355.8 1132.4h0M1339.9 1178.1h0M1360.5 1135.3h0M1377.1 1129.1h0M1340.9 1177.8h0M1388.3 1129.3h0M1360.2 1137.1h0M1383.2 1128.6h0M1342.6 1158.2h0M1339.9 1151.8h0M1335.7 1157.5h0M1378.4 1130.1h0M1337.7 1177.4h0M1343.3 1179.3h0M1339.0 1172.6h0M1342.1 1141.2h0M1342.3 1181.4h0M1383.3 1121.1h0M1340.3 1164.0h0M1371.8 1129.3h0M1376.1 1121.1h0M1387.8 1126.6h0M1360.3 1133.5h0M1337.5 1171.9h0M1350.8 1136.3h0M1335.2 1165.5h0M1361.2 1133.3h0M1377.9 1122.3h0M1343.4 1175.1h0M1368.0 1133.7h0M1335.8 1160.7h0M1388.5 1123.6h0M1363.0 1132.8h0M1355.4 1132.3h0M1352.1 1134.5h0M1340.8 1142.9h0M1363.5 1125.0h0M1391.7 1129.6h0M1362.7 1130.4h0M1377.6 1120.3h0M1346.3 1148.8h0M1374.2 1121.7h0M1382.8 1121.4h0M1333.1 1157.3h0M1346.2 1147.6h0M1355.9 1134.5h0M1382.9 1122.6h0M1335.5 1167.8h0M1380.3 1119.6h0M1338.9 1157.5h0M1341.1 1158.2h0M1352.5 1136.5h0M1388.9 1130.2h0M1338.6 1145.2h0M1356.4 1137.6h0M1339.1 1174.7h0M1389.3 1125.6h0M1356.3 1132.2h0M1335.7 1152.5h0M1338.2 1172.6h0M1355.0 1135.5h0M1371.9 1126.4h0M1370.8 1129.1h0M1360.3 1136.5h0M1341.8 1178.4h0M1336.6 1169.2h0M1336.1 1166.6h0M1341.5 1139.1h0M1337.6 1165.5h0M1341.5 1177.9h0M1350.1 1144.1h0M1335.9 1165.8h0M1333.4 1160.8h0M1337.7 1151.9h0M1355.6 1139.0h0M1336.0 1175.6h0M1371.7 1123.1h0M1339.2 1158.3h0M1387.6 1127.8h0M1340.3 1146.0h0M1345.9 1145.1h0M1346.7 1147.2h0M1336.6 1168.6h0M1338.7 1175.1h0M1333.6 1169.3h0M1379.7 1121.0h0M1393.3 1130.7h0M1342.1 1142.5h0M1389.3 1127.1h0M1334.8 1150.4h0M1392.4 1127.6h0M1358.7 1127.5h0M1383.4 1130.9h0M1392.9 1131.9h0M1371.3 1128.8h0M1346.2 1145.7h0M1337.4 1146.9h0M1339.8 1170.4h0M1343.9 1180.8h0M1341.7 1155.1h0M1390.2 1131.0h0M1335.8 1173.3h0M1355.3 1131.7h0M1344.4 1151.5h0M1386.7 1123.0h0M1377.4 1128.6h0M1370.2 1128.4h0M1344.0 1151.2h0M1351.8 1131.5h0M1346.1 1139.8h0M1345.3 1151.0h0M1352.9 1137.7h0M1341.6 1165.1h0M1334.1 1172.3h0M1344.8 1143.5h0M1380.9 1129.3h0M1383.9 1122.4h0M1368.3 1132.0h0M1334.4 1152.4h0M1365.2 1127.5h0M1365.8 1128.0h0M1351.7 1136.3h0M1372.2 1123.5h0M1342.3 1141.5h0M1384.4 1122.5h0M1344.2 1177.8h0M1341.4 1163.1h0M1343.7 1148.6h0M1383.0 1122.0h0M1343.1 1148.7h0M1346.5 1141.8h0M1381.6 1121.3h0M1351.8 1136.3h0M1339.4 1152.1h0M1335.9 1162.3h0M1335.1 1160.6h0M1343.8 1142.2h0M1367.9 1130.9h0M1370.8 1121.8h0M1364.1 1131.0h0M1352.7 1130.9h0M1340.4 1165.7h0M1348.0 1141.7h0M1351.6 1139.0h0M1371.0 1125.3h0M1337.2 1167.3h0M1352.5 1136.7h0M1381.1 1123.3h0M1344.0 1173.3h0M1368.5 1125.8h0M1335.2 1173.7h0M1339.0 1170.5h0M1347.6 1141.1h0M1344.1 1147.8h0M1334.2 1162.4h0M1341.8 1173.9h0M1375.0 1127.2h0M1342.0 1147.8h0M1345.1 1182.8h0M1366.1 1125.9h0M1335.9 1178.0h0M1342.1 1174.0h0M1384.5 1127.2h0M1369.7 1127.2h0M1340.8 1178.2h0M1340.3 1176.4h0M1340.8 1159.1h0M1337.1 1169.7h0M1345.9 1148.6h0M1381.2 1128.1h0M1385.0 1125.8h0M1361.8 1133.6h0M1370.5 1132.2h0M1347.8 1140.6h0M1389.3 1125.3h0M1339.6 1156.7h0M1333.6 1154.0h0M1336.6 1166.5h0M1346.9 1135.5h0M1336.2 1165.8h0M1361.3 1128.7h0M1338.2 1162.3h0M1340.5 1172.9h0M1366.8 1134.7h0M1338.2 1177.1h0M1355.7 1131.9h0M1367.1 1126.4h0M1339.7 1149.3h0M1347.2 1134.1h0M1339.5 1146.3h0M1341.7 1172.1h0M1338.6 1167.0h0M1386.9 1122.5h0M1368.2 1132.9h0M1383.7 1127.3h0M1353.7 1132.9h0M1339.5 1155.8h0M1362.6 1133.1h0M1366.1 1123.8h0M1349.8 1135.9h0M1333.9 1165.3h0M1345.1 1177.1h0M1334.2 1154.0h0M1342.4 1145.0h0M1355.7 1135.1h0M1340.9 1173.5h0M1375.1 1130.3h0M1374.9 1128.1h0M1373.6 1130.0h0M1338.2 1156.0h0M1385.8 1121.0h0M1338.8 1144.5h0M1352.6 1136.3h0M1377.4 1123.5h0M1344.8 1148.4h0M1361.6 1136.7h0M1334.7 1173.4h0M1339.2 1143.0h0M1378.8 1124.3h0M1339.0 1148.0h0M1335.3 1172.6h0M1338.0 1135.0h0M1305.8 1122.1h0M1371.4 1115.9h0M1331.2 1163.7h0M1375.0 1116.2h0M1310.4 1150.6h0M1377.9 1111.9h0M1325.6 1147.6h0M1362.1 1123.6h0M1318.6 1144.5h0M1344.5 1107.4h0M1320.3 1139.1h0M1349.4 1112.7h0M1328.0 1130.6h0M1316.9 1133.1h0M1333.0 1148.5h0M1308.5 1144.0h0M1323.3 1169.3h0M1347.7 1123.7h0M1378.8 1110.6h0M1366.9 1112.0h0M1331.0 1169.8h0M1378.8 1116.0h0M1321.3 1148.9h0M1341.7 1129.3h0M1358.0 1120.8h0M1328.9 1158.8h0M1332.7 1157.7h0M1376.4 1109.2h0M1361.0 1123.3h0M1374.9 1117.5h0M1332.8 1138.0h0M1385.6 1115.3h0M1339.5 1137.4h0M1331.1 1128.7h0M1377.7 1116.6h0M1333.1 1118.1h0M1333.5 1146.4h0M1307.9 1163.8h0M1384.0 1119.0h0M1339.2 1138.4h0M1332.8 1158.9h0M1382.3 1114.4h0M1315.3 1110.7h0M1333.8 1175.8h0M1358.0 1114.7h0M1381.2 1116.9h0M1330.8 1152.2h0M1363.4 1115.4h0M1331.9 1161.6h0M1355.5 1122.4h0M1319.9 1149.9h0M1357.5 1126.7h0M1374.2 1118.4h0M1338.7 1135.6h0M1362.0 1098.9h0M1312.6 1163.8h0M1327.3 1129.1h0M1338.0 1122.4h0M1329.8 1141.7h0M1364.0 1120.5h0M1334.3 1144.7h0M1365.7 1116.5h0M1376.5 1113.7h0M1322.2 1155.2h0M1309.7 1162.0h0M1366.0 1119.1h0M1332.9 1146.0h0M1382.5 1112.2h0M1325.8 1166.8h0M1352.7 1126.7h0M1329.3 1150.4h0M1358.2 1125.9h0M1388.5 1120.8h0M1371.5 1091.9h0M1339.5 1129.4h0M1339.2 1133.3h0M1328.3 1163.1h0M1374.0 1110.8h0M1318.8 1166.9h0M1364.4 1107.9h0M1352.6 1128.0h0M1326.4 1117.3h0M1330.1 1154.2h0M1360.6 1067.7h0M1339.1 1132.1h0M1376.9 1106.4h0M1377.4 1116.0h0M1333.5 1147.4h0M1310.2 1156.2h0M1314.7 1158.8h0M1337.6 1122.9h0M1383.6 1120.3h0M1317.8 1159.6h0M1327.4 1103.2h0M1351.3 1119.6h0M1363.7 1124.5h0M1355.5 1116.8h0M1377.1 1097.7h0M1328.1 1146.6h0M1332.0 1160.5h0M1382.1 1111.1h0M1331.8 1165.1h0M1347.2 1133.2h0M1347.8 1126.9h0M1365.9 1115.4h0M1340.8 1130.5h0M1351.4 1122.7h0M1327.6 1130.6h0M1368.5 1090.3h0M1316.8 1163.2h0M1385.5 1113.6h0M1327.3 1166.1h0M1384.0 1114.3h0M1353.4 1119.8h0M1333.0 1144.5h0M1372.0 1114.7h0M1322.4 1171.4h0M1374.0 1105.6h0M1330.0 1124.3h0M1332.2 1167.1h0M1371.9 1105.3h0M1332.9 1153.1h0M1373.7 1101.6h0M1345.6 1132.0h0M1327.6 1165.5h0M1380.4 1108.1h0M1327.1 1147.0h0M1326.0 1123.9h0M1320.9 1130.3h0M1300.1 1140.9h0M1326.4 1147.6h0M1383.6 1115.6h0M1351.1 1117.2h0M1342.6 1125.0h0M1384.7 1119.2h0M1372.4 1120.4h0M1374.2 1112.0h0M1330.8 1143.9h0M1359.1 1119.6h0M1340.4 1137.9h0M1340.2 1131.0h0M1333.8 1127.0h0M1326.1 1134.2h0M1340.4 1130.5h0M1338.7 1132.4h0M1379.3 1116.1h0M1381.4 1112.3h0M1374.7 1113.0h0M1338.9 1140.5h0M1328.9 1130.0h0M1350.7 1118.2h0M1321.8 1150.2h0M1380.5 1116.2h0M1353.8 1120.6h0M1334.2 1144.9h0M1334.0 1140.5h0M1331.2 1148.1h0M1333.4 1126.9h0M1333.7 1109.7h0M1372.5 1106.8h0M1319.4 1155.0h0M1351.5 1114.9h0M1348.9 1123.8h0M1364.6 1110.9h0M1355.3 1127.7h0M1345.4 1134.4h0M1320.5 1168.5h0M1325.1 1137.3h0M1333.5 1139.0h0M1294.0 1042.4h0M1315.2 1056.8h0M1294.0 1088.4h0M1294.0 1097.7h0M1294.0 1102.9h0M1285.8 1122.7h0M1343.2 1093.7h0M1355.5 1095.0h0M1329.5 1101.6h0M1314.5 1110.8h0M1362.3 1101.6h0M1369.1 1104.3h0M1294.0 1146.4h0M1299.5 1150.3h0M1302.2 1155.6h0M1307.7 1158.2h0M1313.1 1162.2h0M1313.1 1129.3h0M1317.2 1131.9h0M1321.3 1133.2h0M1326.8 1134.5h0M1314.5 1118.7h0M1317.2 1122.7h0M1300.8 1126.6h0M1289.9 1131.9h0" stroke="#00bfc4" stroke-width="5.8" stroke-linecap="round" fill="none"/>
<polygon points="1458.6,1237.6 1458.6,1243.2 1452.8,1243.2 1495.7,1325.9 1498.4,1325.5 1499.1,1325.4 1499.9,1325.4 1500.6,1325.5 1501.4,1325.6 1502.1,1325.8 1502.9,1326.1 1503.5,1326.4 1504.2,1326.9 1509.2,1330.3 1526.4,1328.1 1542.1,1325.2 1552.5,1317.7 1556.1,1309.0 1553.0,1296.3 1548.2,1290.4 1547.8,1289.8 1547.4,1289.2 1547.0,1288.5 1546.8,1287.8 1546.6,1287.0 1546.4,1286.3 1546.4,1285.5 1546.4,1284.8 1546.7,1280.1 1458.6,1237.6" fill="#00bfc4" stroke="#00bfc4" stroke-width="5.8" stroke-linejoin="round"/>
<path d="M1557.6 1300.3h0M1537.0 1331.1h0M1555.7 1309.6h0M1551.7 1284.2h0M1546.3 1285.7h0M1560.5 1304.2h0M1560.2 1294.6h0M1514.2 1334.9h0M1555.6 1294.7h0M1558.7 1296.3h0M1530.0 1329.2h0M1561.7 1311.5h0M1558.5 1315.5h0M1511.8 1334.7h0M1545.2 1287.6h0M1519.2 1334.7h0M1559.9 1311.3h0M1501.2 1330.7h0M1525.9 1325.8h0M1515.2 1337.0h0M1518.7 1334.8h0M1531.1 1328.8h0M1525.5 1332.7h0M1534.9 1326.4h0M1562.2 1303.9h0M1554.8 1307.3h0M1554.6 1293.6h0M1500.8 1330.7h0M1539.9 1325.2h0M1552.5 1297.4h0M1503.8 1330.1h0M1513.7 1332.9h0M1520.3 1336.2h0M1506.7 1326.6h0M1535.7 1333.0h0M1554.2 1312.1h0M1519.1 1327.8h0M1557.3 1289.1h0M1502.5 1329.7h0M1548.4 1324.6h0M1499.8 1328.1h0M1551.9 1293.3h0M1503.6 1330.5h0M1538.3 1328.5h0M1500.1 1323.4h0M1510.6 1332.8h0M1557.4 1299.1h0M1530.3 1325.7h0M1561.9 1304.2h0M1518.5 1328.2h0M1505.2 1335.3h0M1557.4 1312.3h0M1509.9 1336.6h0M1553.8 1304.0h0M1529.6 1335.4h0M1529.8 1333.3h0M1561.6 1305.1h0M1525.6 1334.9h0M1548.1 1323.1h0M1528.1 1335.7h0M1519.6 1330.3h0M1545.3 1328.6h0M1560.6 1318.5h0M1510.8 1334.4h0M1536.1 1330.8h0M1515.2 1334.5h0M1523.0 1331.5h0M1550.8 1315.8h0M1545.4 1328.6h0M1511.9 1336.4h0M1523.5 1331.5h0M1541.9 1325.9h0M1530.3 1325.8h0M1507.1 1326.3h0M1563.6 1309.4h0M1499.7 1324.0h0M1520.9 1329.8h0M1515.5 1331.0h0M1511.6 1334.3h0M1556.3 1316.9h0M1502.2 1332.0h0M1555.3 1291.8h0M1551.9 1320.0h0M1555.2 1290.9h0M1552.0 1285.0h0M1559.8 1293.9h0M1561.6 1306.7h0M1550.4 1289.6h0M1513.7 1334.7h0M1509.8 1335.4h0M1534.9 1328.9h0M1554.0 1286.2h0M1561.8 1312.9h0M1552.1 1319.0h0M1528.3 1335.4h0M1548.6 1281.5h0M1551.5 1283.4h0M1536.9 1329.9h0M1551.3 1295.9h0M1545.6 1288.9h0M1552.2 1303.5h0M1504.9 1325.5h0M1499.8 1331.8h0M1544.0 1285.1h0M1516.6 1333.6h0M1552.3 1299.5h0M1529.8 1325.2h0M1560.7 1309.7h0M1551.9 1283.1h0M1556.9 1292.5h0M1536.4 1327.4h0M1551.6 1284.7h0M1551.8 1298.1h0M1562.6 1313.1h0M1532.3 1326.5h0M1495.2 1323.5h0M1498.5 1331.1h0M1520.0 1332.4h0M1554.7 1309.7h0M1554.9 1319.5h0M1545.6 1328.0h0M1503.4 1334.0h0M1550.5 1319.5h0M1521.1 1332.3h0M1506.4 1328.2h0M1526.8 1328.7h0M1551.4 1294.3h0M1556.5 1323.5h0M1550.4 1326.6h0M1553.4 1315.4h0M1505.1 1325.4h0M1547.0 1292.7h0M1554.2 1319.2h0M1546.0 1326.7h0M1518.0 1337.0h0M1554.0 1284.0h0M1553.0 1298.2h0M1553.0 1320.0h0M1556.3 1300.3h0M1544.5 1320.8h0M1548.3 1322.0h0M1508.3 1333.8h0M1517.5 1328.2h0M1553.5 1285.1h0M1529.9 1326.3h0M1547.6 1284.4h0M1507.0 1334.0h0M1559.3 1309.0h0M1554.5 1316.5h0M1534.7 1324.8h0M1545.7 1281.7h0M1550.8 1326.9h0M1524.3 1335.4h0M1519.1 1335.3h0M1546.2 1282.2h0M1545.4 1320.4h0M1550.8 1284.2h0M1536.4 1324.8h0M1497.6 1327.4h0M1502.2 1329.2h0M1500.6 1325.7h0M1552.4 1284.9h0M1551.7 1327.0h0M1543.6 1323.7h0M1544.0 1283.4h0M1544.8 1326.3h0M1522.2 1328.4h0M1531.8 1324.7h0M1538.8 1327.2h0M1553.9 1306.2h0M1555.1 1323.9h0M1554.4 1324.4h0M1516.1 1332.1h0M1554.1 1289.6h0M1548.9 1289.5h0M1558.6 1303.5h0M1546.1 1280.7h0M1547.5 1287.9h0M1503.7 1327.3h0M1557.4 1296.1h0M1547.8 1318.8h0M1532.9 1328.1h0M1555.0 1308.7h0M1554.3 1288.7h0M1507.2 1332.6h0M1545.0 1283.4h0M1501.6 1325.4h0M1526.7 1331.8h0M1554.9 1318.8h0M1498.5 1322.9h0M1504.0 1334.6h0M1510.9 1337.0h0M1552.0 1302.7h0M1546.9 1330.7h0M1532.9 1331.6h0M1557.4 1317.1h0M1506.1 1329.2h0M1556.3 1319.3h0M1546.2 1280.9h0M1515.3 1329.2h0M1544.8 1279.6h0M1561.0 1311.2h0M1557.7 1315.6h0M1563.2 1311.0h0M1515.6 1333.6h0M1554.6 1316.9h0M1549.2 1288.2h0M1525.0 1336.4h0M1545.3 1288.0h0M1559.3 1317.0h0M1540.7 1329.6h0M1540.0 1329.6h0M1510.1 1330.5h0M1506.7 1330.2h0M1549.4 1294.9h0M1530.5 1328.6h0M1542.4 1330.2h0M1562.7 1309.2h0M1556.6 1291.1h0M1500.9 1333.1h0M1562.3 1306.4h0M1546.3 1281.6h0M1550.9 1326.5h0M1549.7 1326.4h0M1555.2 1311.6h0M1496.9 1328.0h0M1546.3 1288.8h0M1550.4 1319.2h0M1499.4 1331.6h0M1519.6 1331.1h0M1537.5 1324.3h0M1544.7 1282.3h0M1553.9 1293.8h0M1537.9 1330.3h0M1551.0 1325.9h0M1544.5 1322.5h0M1547.9 1291.7h0M1525.8 1329.3h0M1548.9 1281.6h0M1536.0 1325.2h0M1520.2 1336.2h0M1556.5 1311.9h0M1560.0 1292.3h0M1540.6 1323.9h0M1556.3 1297.9h0M1552.9 1292.8h0M1501.7 1334.1h0M1551.0 1322.0h0M1557.3 1319.9h0M1501.1 1331.2h0M1523.6 1331.4h0M1552.8 1298.0h0M1515.7 1327.3h0M1553.6 1289.4h0M1516.8 1331.8h0M1550.5 1326.0h0M1534.5 1330.6h0M1506.1 1327.8h0M1535.7 1332.8h0M1538.4 1329.9h0M1530.6 1328.2h0M1546.3 1284.4h0M1555.5 1287.0h0M1559.2 1301.5h0M1504.9 1331.7h0M1514.7 1328.1h0M1522.3 1335.7h0M1508.6 1335.9h0M1561.1 1315.8h0M1502.0 1325.1h0M1554.2 1321.5h0M1559.5 1314.2h0M1521.7 1335.0h0M1556.4 1302.6h0M1536.3 1324.6h0M1551.1 1298.5h0M1524.6 1333.6h0M1559.4 1305.3h0M1528.9 1328.9h0M1555.5 1296.4h0M1555.9 1290.1h0M1556.2 1290.9h0M1557.7 1304.9h0M1501.0 1331.8h0M1540.6 1330.2h0M1562.2 1309.2h0M1542.4 1327.9h0M1515.7 1336.1h0M1513.1 1331.4h0M1541.2 1326.9h0M1549.6 1319.2h0M1540.0 1332.6h0M1560.8 1305.5h0M1554.4 1320.6h0M1532.9 1327.3h0M1536.3 1328.0h0M1507.4 1337.0h0M1534.6 1331.6h0M1557.6 1294.3h0M1525.0 1335.9h0M1556.5 1314.6h0M1537.6 1332.3h0M1550.2 1316.3h0M1549.7 1292.8h0M1562.6 1310.6h0M1506.7 1330.6h0M1551.6 1301.3h0M1551.2 1295.3h0M1547.2 1286.8h0M1505.5 1332.2h0M1546.3 1289.3h0M1560.5 1309.1h0M1513.4 1334.1h0M1551.9 1315.5h0M1552.3 1285.8h0M1529.7 1329.4h0M1501.8 1323.1h0M1521.5 1326.8h0M1557.0 1295.6h0M1561.2 1308.4h0M1537.6 1325.5h0M1543.6 1322.5h0M1513.8 1333.4h0M1527.2 1335.8h0M1522.0 1333.2h0M1503.8 1326.4h0M1552.3 1323.1h0M1521.1 1335.1h0M1522.2 1331.7h0M1558.7 1295.3h0M1554.1 1323.2h0M1514.7 1337.1h0M1515.7 1336.9h0M1543.0 1323.6h0M1547.9 1328.3h0M1556.3 1316.2h0M1520.1 1329.4h0M1534.3 1330.0h0M1529.5 1326.3h0M1526.8 1326.1h0M1557.6 1309.2h0M1513.1 1332.5h0M1523.8 1330.9h0M1560.2 1296.5h0M1562.1 1303.2h0M1551.0 1316.3h0M1548.3 1286.5h0M1560.1 1295.0h0M1547.8 1280.7h0M1552.8 1323.0h0M1537.1 1331.7h0M1552.2 1312.2h0M1554.0 1316.9h0M1537.3 1333.3h0M1498.0 1323.2h0M1540.1 1324.8h0M1546.3 1323.4h0M1500.5 1332.5h0M1551.1 1321.8h0M1537.8 1328.2h0M1554.8 1304.5h0M1536.7 1324.3h0M1554.7 1291.2h0M1554.8 1303.7h0M1556.5 1315.7h0M1557.4 1296.9h0M1554.0 1289.2h0M1553.8 1297.4h0M1525.7 1330.5h0M1507.5 1332.0h0M1530.9 1328.6h0M1525.8 1326.2h0M1517.3 1330.0h0M1517.1 1335.2h0M1561.4 1306.5h0M1517.5 1330.9h0M1550.1 1290.4h0M1518.1 1331.9h0M1551.9 1293.8h0M1550.1 1323.1h0M1504.4 1333.9h0M1509.2 1334.4h0M1545.4 1282.9h0M1499.5 1330.8h0M1558.8 1316.4h0M1544.8 1329.7h0M1545.7 1328.4h0M1503.3 1329.9h0M1550.1 1316.7h0M1527.4 1327.9h0M1521.9 1332.9h0M1556.7 1318.7h0M1552.9 1311.9h0M1542.9 1329.1h0M1549.4 1293.0h0M1510.6 1336.4h0M1556.1 1324.3h0M1506.5 1329.5h0M1531.1 1326.6h0M1532.3 1326.2h0M1544.4 1332.4h0M1548.7 1320.5h0M1513.4 1335.0h0M1552.3 1315.9h0M1501.4 1324.9h0M1529.7 1333.4h0M1499.4 1327.4h0M1534.4 1334.2h0M1560.7 1306.0h0M1559.6 1293.0h0M1555.9 1305.1h0M1550.2 1292.9h0M1533.8 1333.5h0M1525.3 1331.4h0M1544.6 1332.4h0M1531.4 1328.4h0M1546.7 1287.0h0M1554.1 1316.6h0M1554.5 1308.6h0M1504.6 1329.9h0M1563.5 1305.5h0M1544.9 1336.7h0M1533.0 1339.4h0M1577.4 1321.3h0M1563.9 1302.1h0M1540.0 1336.0h0M1575.6 1301.5h0M1572.4 1298.0h0M1563.4 1314.8h0M1569.8 1315.0h0M1567.9 1321.1h0M1520.5 1361.9h0M1570.1 1309.8h0M1521.7 1364.6h0M1563.2 1334.1h0M1550.3 1340.3h0M1515.9 1345.3h0M1554.7 1365.3h0M1545.1 1334.5h0M1565.1 1306.3h0M1571.1 1317.4h0M1569.6 1309.8h0M1553.1 1331.3h0M1568.0 1351.5h0M1516.1 1353.9h0M1557.2 1327.5h0M1516.2 1338.3h0M1528.7 1336.3h0M1550.7 1329.0h0M1526.2 1343.3h0M1557.1 1286.8h0M1574.0 1303.8h0M1538.3 1339.9h0M1557.3 1325.8h0M1579.4 1322.2h0M1565.9 1339.4h0M1529.6 1339.1h0M1557.6 1334.6h0M1524.6 1337.9h0M1528.3 1337.6h0M1571.1 1307.0h0M1509.9 1346.8h0M1531.9 1335.5h0M1514.8 1356.0h0M1503.9 1341.2h0M1563.3 1323.7h0M1535.6 1367.1h0M1560.5 1329.8h0M1544.4 1337.4h0M1530.6 1335.7h0M1565.1 1317.3h0M1559.3 1356.4h0M1592.1 1307.2h0M1543.8 1338.8h0M1569.8 1342.6h0M1563.1 1293.7h0M1568.1 1312.4h0M1535.8 1346.4h0M1529.5 1338.3h0M1546.6 1336.8h0M1606.8 1332.5h0M1554.2 1328.8h0M1548.2 1337.4h0M1554.6 1327.6h0M1512.3 1344.6h0M1571.4 1318.0h0M1557.0 1328.5h0M1566.3 1298.3h0M1563.0 1318.9h0M1562.6 1328.3h0M1578.4 1322.3h0M1570.3 1329.2h0M1527.7 1341.7h0M1562.1 1296.3h0M1549.6 1340.0h0M1564.0 1296.4h0M1513.7 1340.2h0M1567.0 1323.5h0M1526.9 1337.5h0M1566.0 1299.2h0M1520.9 1344.0h0M1554.9 1345.5h0M1507.9 1341.3h0M1542.6 1348.4h0M1547.9 1359.9h0M1518.0 1347.2h0M1562.7 1290.4h0M1565.7 1315.2h0M1535.8 1340.4h0M1577.0 1315.1h0M1543.8 1340.9h0M1569.9 1304.6h0M1554.7 1338.5h0M1528.5 1375.5h0M1573.3 1305.4h0M1566.0 1314.1h0M1570.8 1316.9h0M1519.9 1343.1h0M1564.2 1306.7h0M1516.7 1343.0h0M1523.1 1342.7h0M1558.9 1334.2h0M1505.4 1344.5h0M1529.8 1338.7h0M1561.2 1290.6h0M1573.8 1314.1h0M1562.2 1320.0h0M1564.3 1294.5h0M1581.9 1324.5h0M1571.1 1315.8h0M1572.0 1301.0h0M1585.9 1303.6h0M1568.2 1296.2h0M1514.3 1337.8h0M1570.5 1313.4h0M1523.9 1369.7h0M1546.1 1336.8h0M1573.8 1323.6h0M1591.0 1308.3h0M1565.1 1310.6h0M1555.2 1335.9h0M1561.3 1322.7h0M1559.2 1288.4h0M1576.5 1298.6h0M1538.7 1339.6h0M1513.1 1341.4h0M1582.3 1320.8h0M1565.2 1320.8h0M1542.4 1334.4h0M1556.6 1285.0h0M1540.0 1340.3h0M1565.8 1294.7h0M1617.3 1316.8h0M1520.6 1371.8h0M1518.9 1338.6h0M1585.3 1299.8h0M1561.9 1288.0h0M1573.6 1294.7h0M1557.7 1327.2h0M1515.2 1351.2h0M1533.7 1341.4h0M1531.5 1351.4h0M1565.6 1317.2h0M1517.0 1346.5h0M1579.3 1320.2h0M1532.1 1343.6h0M1552.8 1341.5h0M1513.5 1339.6h0M1535.9 1340.9h0M1571.6 1308.3h0M1514.4 1345.4h0M1532.4 1335.5h0M1563.1 1325.6h0M1563.1 1293.9h0M1534.4 1362.5h0M1575.6 1341.5h0M1571.9 1311.7h0M1569.5 1310.6h0M1551.6 1354.2h0M1541.6 1344.9h0M1562.8 1295.2h0M1550.1 1329.4h0M1515.6 1346.4h0M1538.9 1347.1h0M1557.2 1341.3h0M1586.5 1353.5h0M1527.5 1338.5h0M1565.7 1295.7h0M1553.7 1341.3h0M1561.7 1340.2h0M1500.9 1334.7h0M1532.1 1340.2h0M1535.3 1336.0h0M1568.7 1299.0h0M1570.7 1336.6h0M1566.2 1293.0h0M1511.3 1347.1h0M1563.2 1294.0h0M1534.7 1351.0h0M1557.1 1365.6h0M1552.4 1341.4h0M1518.9 1349.6h0M1563.9 1323.0h0M1586.2 1309.9h0M1538.0 1337.5h0M1511.3 1350.1h0M1515.8 1363.5h0M1562.0 1359.9h0M1515.7 1337.8h0M1564.2 1344.8h0M1613.7 1316.3h0M1605.5 1321.6h0M1610.9 1361.1h0M1576.8 1395.3h0M1583.6 1395.3h0M1556.3 1395.3h0M1560.4 1395.3h0M1560.4 1388.7h0M1560.4 1380.8h0M1560.4 1372.9h0M1560.4 1365.0h0M1563.1 1357.1h0M1563.1 1347.9h0M1597.3 1311.0h0M1606.8 1326.8h0M1585.0 1324.2h0M1591.8 1321.6h0M1585.0 1340.0h0M1585.0 1346.6h0M1576.8 1380.8h0M1572.7 1372.9h0M1539.9 1363.7h0M1542.6 1370.3h0M1531.7 1353.2h0M1526.2 1350.5h0M1587.7 1353.2h0M1583.6 1357.1h0M1579.5 1358.4h0M1587.7 1362.4h0" stroke="#00bfc4" stroke-width="5.8" stroke-linecap="round" fill="none"/>
<path d="M1152.0 1520.4L1745.6 950.2M1152.0 1232L1745.6 1237M1450.5 950.2L1447 1520.4" stroke="#555" stroke-width="0.7" fill="none"/>
<path d="M1152.0 1520.4L1745.6 950.2M1152.0 1232L1745.6 1237M1450.5 950.2L1447 1520.4" stroke="#000" stroke-width="2.2" stroke-dasharray="11 6" fill="none"/>
<rect x="1152.0" y="950.2" width="593.6" height="570.2" fill="none" stroke="#000" stroke-width="2.4"/>
<path d="M1173.8 1520.4v7M1152.0 1495.4h-7M1310.4 1520.4v7M1152.0 1363.7h-7M1447.0 1520.4v7M1152.0 1232.0h-7M1583.6 1520.4v7M1152.0 1100.3h-7M1720.2 1520.4v7M1152.0 968.6h-7" stroke="#000" stroke-width="2.2" fill="none"/>
<text transform="translate(1183.1 1563.3) scale(1.05 1)" font-size="32" text-anchor="end">-2</text>
<text transform="translate(1111.0 1505.2) scale(1.04 1)" font-size="32.5">-2</text>
<text transform="translate(1319.7 1563.3) scale(1.05 1)" font-size="32" text-anchor="end">-1</text>
<text transform="translate(1111.0 1373.5) scale(1.04 1)" font-size="32.5">-1</text>
<text transform="translate(1454.8 1563.3) scale(1.05 1)" font-size="32" text-anchor="end">0</text>
<text transform="translate(1111.0 1241.8) scale(1.04 1)" font-size="32.5">0</text>
<text transform="translate(1592.9 1563.3) scale(1.05 1)" font-size="32" text-anchor="end">1</text>
<text transform="translate(1111.0 1110.1) scale(1.04 1)" font-size="32.5">1</text>
<text transform="translate(1729.5 1563.3) scale(1.05 1)" font-size="32" text-anchor="end">2</text>
<text transform="translate(1111.0 978.4) scale(1.04 1)" font-size="32.5">2</text>
<text transform="translate(1435.5 1624.6) scale(1.075 1)" font-size="40" text-anchor="middle">Effect of stage 1</text>
<text transform="translate(1071.3 1228.6) scale(1.04 1) rotate(-90)" font-size="41.3" text-anchor="middle">Effect of stage 2</text>
<circle cx="1498.6" cy="1462" r="11.5" fill="#f8766d"/>
<circle cx="1501" cy="1500.3" r="11.7" fill="#00bfc4"/>
<text transform="translate(1522.0 1467.8) scale(1.09 1)" font-size="21">consistent direction</text>
<text transform="translate(1522.0 1505.7) scale(1.09 1)" font-size="21">opposite direction</text>
</svg>
</body></html>
